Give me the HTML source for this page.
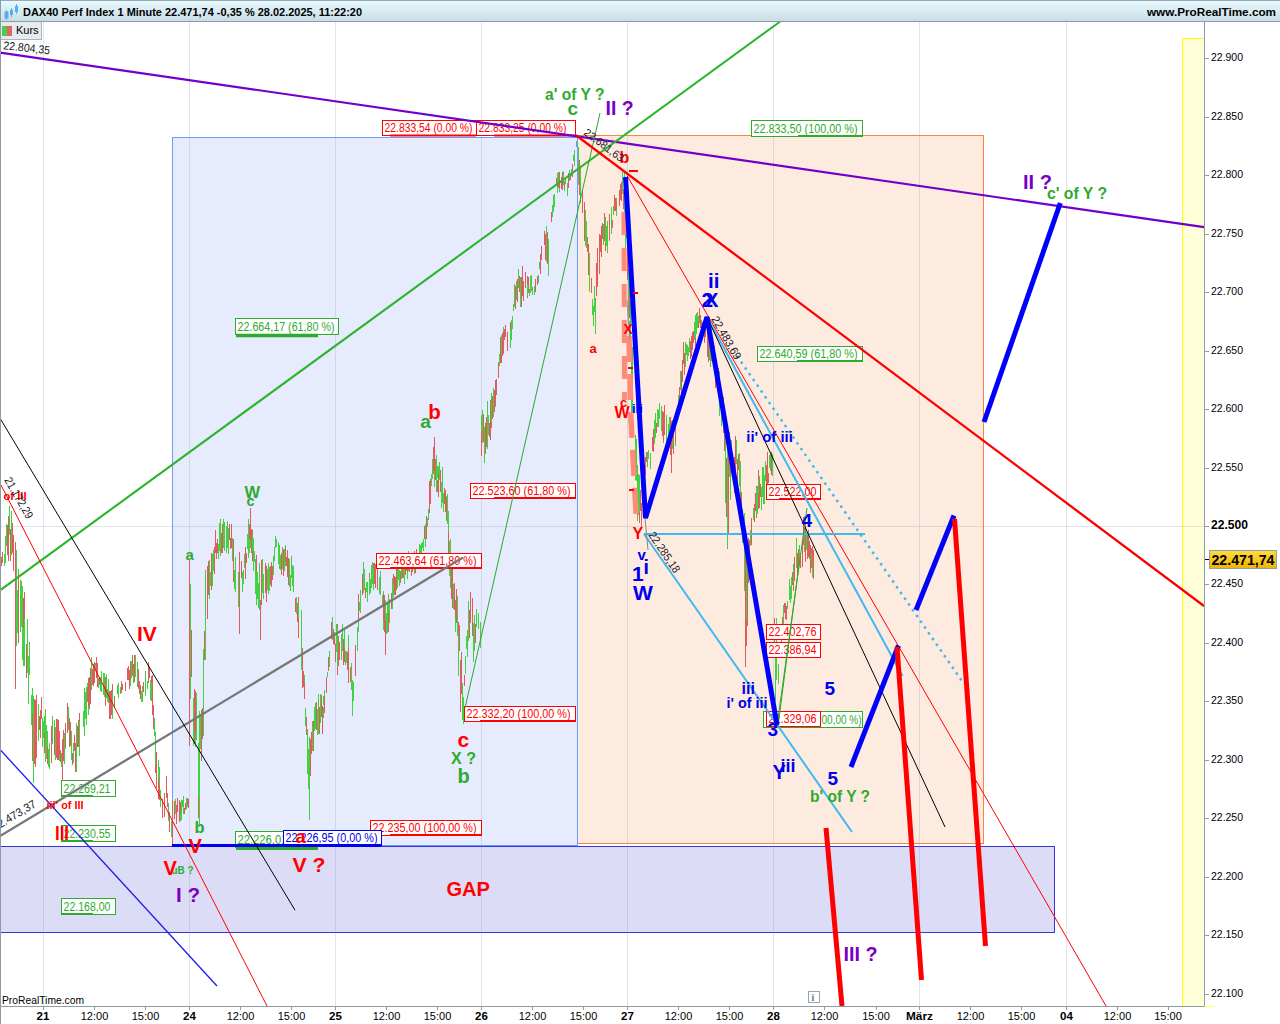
<!DOCTYPE html>
<html><head><meta charset="utf-8"><style>
html,body{margin:0;padding:0;background:#fff;overflow:hidden;width:1280px;height:1024px;}
svg{display:block;font-family:"Liberation Sans", sans-serif;}
</style></head><body>
<svg width="1280" height="1024" viewBox="0 0 1280 1024">
<rect x="0" y="0" width="1280" height="1024" fill="#fff"/>
<rect x="172.5" y="137.5" width="405" height="708" fill="#e6ecfe" stroke="#6c9cff" stroke-width="1"/>
<rect x="577.5" y="135.5" width="406" height="708" fill="#feebe0" stroke="#ff8040" stroke-width="1"/>
<rect x="0.5" y="846.5" width="1054" height="86" fill="#dcdcf7" stroke="#3535dd" stroke-width="1"/>
<line x1="577.5" y1="137" x2="577.5" y2="845" stroke="#6c9cff" stroke-width="1"/>
<rect x="1182.5" y="38.5" width="22" height="968" fill="#ffffd9" stroke="#ffff00" stroke-width="1"/>
<line x1="43.5" y1="22" x2="43.5" y2="1006" stroke="rgba(148,159,182,0.28)" stroke-width="1" />
<line x1="189.5" y1="22" x2="189.5" y2="1006" stroke="rgba(148,159,182,0.28)" stroke-width="1" />
<line x1="335.5" y1="22" x2="335.5" y2="1006" stroke="rgba(148,159,182,0.28)" stroke-width="1" />
<line x1="481.5" y1="22" x2="481.5" y2="1006" stroke="rgba(148,159,182,0.28)" stroke-width="1" />
<line x1="627.5" y1="22" x2="627.5" y2="1006" stroke="rgba(148,159,182,0.28)" stroke-width="1" />
<line x1="773.5" y1="22" x2="773.5" y2="1006" stroke="rgba(148,159,182,0.28)" stroke-width="1" />
<line x1="919.5" y1="22" x2="919.5" y2="1006" stroke="rgba(148,159,182,0.28)" stroke-width="1" />
<line x1="1066.5" y1="22" x2="1066.5" y2="1006" stroke="rgba(148,159,182,0.28)" stroke-width="1" />
<line x1="0" y1="526.5" x2="1204" y2="526.5" stroke="rgba(148,159,182,0.28)" stroke-width="1" />
<g stroke-width="1" shape-rendering="crispEdges"><line x1="1.5" y1="556.8" x2="1.5" y2="566.2" stroke="#de5c5c"/><line x1="2.5" y1="552.0" x2="2.5" y2="563.2" stroke="#de5c5c"/><line x1="4.5" y1="554.4" x2="4.5" y2="566.4" stroke="#40d240"/><line x1="5.5" y1="544.4" x2="5.5" y2="562.9" stroke="#40d240"/><line x1="5.5" y1="536.0" x2="5.5" y2="552.1" stroke="#40d240"/><line x1="6.5" y1="524.0" x2="6.5" y2="545.7" stroke="#40d240"/><line x1="7.5" y1="525.2" x2="7.5" y2="555.4" stroke="#de5c5c"/><line x1="8.5" y1="516.1" x2="8.5" y2="561.0" stroke="#de5c5c"/><line x1="9.5" y1="506.1" x2="9.5" y2="534.6" stroke="#40d240"/><line x1="10.5" y1="528.6" x2="10.5" y2="561.2" stroke="#de5c5c"/><line x1="11.5" y1="511.0" x2="11.5" y2="555.4" stroke="#40d240"/><line x1="12.5" y1="523.0" x2="12.5" y2="553.1" stroke="#de5c5c"/><line x1="13.5" y1="535.0" x2="13.5" y2="570.7" stroke="#de5c5c"/><line x1="15.5" y1="545.0" x2="15.5" y2="613.4" stroke="#40d240"/><line x1="16.5" y1="550.0" x2="16.5" y2="645.9" stroke="#40d240"/><line x1="17.5" y1="589.9" x2="17.5" y2="633.1" stroke="#40d240"/><line x1="18.5" y1="569.3" x2="18.5" y2="639.3" stroke="#40d240"/><line x1="18.5" y1="573.7" x2="18.5" y2="642.7" stroke="#de5c5c"/><line x1="20.5" y1="580.4" x2="20.5" y2="631.7" stroke="#40d240"/><line x1="21.5" y1="581.0" x2="21.5" y2="627.1" stroke="#40d240"/><line x1="22.5" y1="586.2" x2="22.5" y2="660.2" stroke="#40d240"/><line x1="23.5" y1="598.0" x2="23.5" y2="630.6" stroke="#de5c5c"/><line x1="23.5" y1="627.6" x2="23.5" y2="665.9" stroke="#40d240"/><line x1="24.5" y1="592.0" x2="24.5" y2="661.4" stroke="#de5c5c"/><line x1="24.5" y1="619.3" x2="24.5" y2="666.0" stroke="#40d240"/><line x1="26.5" y1="644.0" x2="26.5" y2="678.0" stroke="#de5c5c"/><line x1="27.5" y1="619.0" x2="27.5" y2="673.0" stroke="#40d240"/><line x1="28.5" y1="656.3" x2="28.5" y2="704.0" stroke="#40d240"/><line x1="29.5" y1="641.5" x2="29.5" y2="675.2" stroke="#40d240"/><line x1="31.5" y1="694.7" x2="31.5" y2="724.8" stroke="#40d240"/><line x1="32.5" y1="694.6" x2="32.5" y2="760.9" stroke="#de5c5c"/><line x1="32.5" y1="687.9" x2="32.5" y2="713.8" stroke="#40d240"/><line x1="33.5" y1="745.3" x2="33.5" y2="771.6" stroke="#de5c5c"/><line x1="33.5" y1="695.8" x2="33.5" y2="768.3" stroke="#40d240"/><line x1="34.5" y1="698.5" x2="34.5" y2="764.4" stroke="#de5c5c"/><line x1="35.5" y1="704.3" x2="35.5" y2="766.8" stroke="#40d240"/><line x1="35.5" y1="699.9" x2="35.5" y2="766.8" stroke="#de5c5c"/><line x1="36.5" y1="713.7" x2="36.5" y2="758.0" stroke="#de5c5c"/><line x1="36.5" y1="694.6" x2="36.5" y2="739.4" stroke="#de5c5c"/><line x1="38.5" y1="706.1" x2="38.5" y2="741.0" stroke="#40d240"/><line x1="38.5" y1="704.4" x2="38.5" y2="737.0" stroke="#40d240"/><line x1="39.5" y1="716.4" x2="39.5" y2="730.1" stroke="#de5c5c"/><line x1="40.5" y1="709.9" x2="40.5" y2="738.1" stroke="#de5c5c"/><line x1="41.5" y1="697.4" x2="41.5" y2="718.7" stroke="#de5c5c"/><line x1="42.5" y1="717.8" x2="42.5" y2="747.4" stroke="#40d240"/><line x1="43.5" y1="721.1" x2="43.5" y2="738.1" stroke="#40d240"/><line x1="44.5" y1="727.7" x2="44.5" y2="752.6" stroke="#de5c5c"/><line x1="44.5" y1="716.2" x2="44.5" y2="733.1" stroke="#40d240"/><line x1="45.5" y1="716.6" x2="45.5" y2="762.2" stroke="#40d240"/><line x1="45.5" y1="709.1" x2="45.5" y2="738.8" stroke="#40d240"/><line x1="46.5" y1="725.2" x2="46.5" y2="759.2" stroke="#40d240"/><line x1="47.5" y1="731.0" x2="47.5" y2="750.2" stroke="#40d240"/><line x1="47.5" y1="746.6" x2="47.5" y2="764.4" stroke="#de5c5c"/><line x1="48.5" y1="748.5" x2="48.5" y2="766.6" stroke="#40d240"/><line x1="49.5" y1="743.2" x2="49.5" y2="769.1" stroke="#40d240"/><line x1="51.5" y1="726.0" x2="51.5" y2="762.9" stroke="#de5c5c"/><line x1="52.5" y1="716.3" x2="52.5" y2="744.2" stroke="#40d240"/><line x1="54.5" y1="720.2" x2="54.5" y2="738.8" stroke="#40d240"/><line x1="54.5" y1="729.1" x2="54.5" y2="754.8" stroke="#de5c5c"/><line x1="55.5" y1="727.0" x2="55.5" y2="760.0" stroke="#40d240"/><line x1="56.5" y1="719.2" x2="56.5" y2="741.4" stroke="#de5c5c"/><line x1="56.5" y1="737.7" x2="56.5" y2="757.9" stroke="#de5c5c"/><line x1="57.5" y1="738.1" x2="57.5" y2="759.8" stroke="#de5c5c"/><line x1="57.5" y1="718.7" x2="57.5" y2="747.1" stroke="#de5c5c"/><line x1="58.5" y1="720.0" x2="58.5" y2="749.9" stroke="#de5c5c"/><line x1="58.5" y1="738.6" x2="58.5" y2="760.0" stroke="#de5c5c"/><line x1="59.5" y1="742.7" x2="59.5" y2="761.4" stroke="#40d240"/><line x1="59.5" y1="731.2" x2="59.5" y2="755.0" stroke="#de5c5c"/><line x1="60.5" y1="749.7" x2="60.5" y2="761.5" stroke="#de5c5c"/><line x1="61.5" y1="752.6" x2="61.5" y2="766.9" stroke="#40d240"/><line x1="62.5" y1="750.5" x2="62.5" y2="780.0" stroke="#de5c5c"/><line x1="62.5" y1="738.7" x2="62.5" y2="776.0" stroke="#40d240"/><line x1="63.5" y1="730.0" x2="63.5" y2="760.5" stroke="#de5c5c"/><line x1="64.5" y1="734.7" x2="64.5" y2="753.4" stroke="#40d240"/><line x1="64.5" y1="733.3" x2="64.5" y2="764.4" stroke="#40d240"/><line x1="65.5" y1="723.2" x2="65.5" y2="748.5" stroke="#40d240"/><line x1="65.5" y1="724.4" x2="65.5" y2="747.8" stroke="#de5c5c"/><line x1="67.5" y1="703.3" x2="67.5" y2="733.4" stroke="#de5c5c"/><line x1="68.5" y1="707.0" x2="68.5" y2="729.6" stroke="#40d240"/><line x1="69.5" y1="718.6" x2="69.5" y2="739.6" stroke="#40d240"/><line x1="69.5" y1="717.8" x2="69.5" y2="747.3" stroke="#de5c5c"/><line x1="70.5" y1="722.2" x2="70.5" y2="746.4" stroke="#de5c5c"/><line x1="71.5" y1="730.8" x2="71.5" y2="744.6" stroke="#40d240"/><line x1="71.5" y1="742.7" x2="71.5" y2="759.5" stroke="#40d240"/><line x1="72.5" y1="752.6" x2="72.5" y2="764.5" stroke="#de5c5c"/><line x1="73.5" y1="742.7" x2="73.5" y2="763.3" stroke="#40d240"/><line x1="74.5" y1="735.0" x2="74.5" y2="750.8" stroke="#de5c5c"/><line x1="75.5" y1="743.3" x2="75.5" y2="771.7" stroke="#de5c5c"/><line x1="76.5" y1="735.8" x2="76.5" y2="771.7" stroke="#40d240"/><line x1="76.5" y1="723.0" x2="76.5" y2="762.4" stroke="#40d240"/><line x1="77.5" y1="725.7" x2="77.5" y2="745.7" stroke="#de5c5c"/><line x1="77.5" y1="731.4" x2="77.5" y2="746.9" stroke="#de5c5c"/><line x1="78.5" y1="720.0" x2="78.5" y2="746.6" stroke="#de5c5c"/><line x1="78.5" y1="720.3" x2="78.5" y2="740.1" stroke="#de5c5c"/><line x1="79.5" y1="713.4" x2="79.5" y2="742.6" stroke="#de5c5c"/><line x1="79.5" y1="721.2" x2="79.5" y2="756.4" stroke="#40d240"/><line x1="83.5" y1="711.4" x2="83.5" y2="727.0" stroke="#40d240"/><line x1="84.5" y1="704.7" x2="84.5" y2="735.7" stroke="#40d240"/><line x1="84.5" y1="688.0" x2="84.5" y2="720.7" stroke="#40d240"/><line x1="85.5" y1="691.8" x2="85.5" y2="718.9" stroke="#40d240"/><line x1="86.5" y1="687.0" x2="86.5" y2="724.6" stroke="#40d240"/><line x1="87.5" y1="683.4" x2="87.5" y2="701.5" stroke="#40d240"/><line x1="87.5" y1="689.0" x2="87.5" y2="701.5" stroke="#de5c5c"/><line x1="88.5" y1="682.9" x2="88.5" y2="714.6" stroke="#40d240"/><line x1="88.5" y1="677.9" x2="88.5" y2="706.0" stroke="#de5c5c"/><line x1="89.5" y1="676.7" x2="89.5" y2="709.3" stroke="#de5c5c"/><line x1="90.5" y1="668.4" x2="90.5" y2="704.0" stroke="#de5c5c"/><line x1="91.5" y1="657.4" x2="91.5" y2="689.9" stroke="#40d240"/><line x1="91.5" y1="659.5" x2="91.5" y2="684.6" stroke="#40d240"/><line x1="92.5" y1="668.7" x2="92.5" y2="684.9" stroke="#de5c5c"/><line x1="93.5" y1="664.1" x2="93.5" y2="686.2" stroke="#de5c5c"/><line x1="94.5" y1="661.5" x2="94.5" y2="683.3" stroke="#de5c5c"/><line x1="94.5" y1="674.1" x2="94.5" y2="682.2" stroke="#de5c5c"/><line x1="95.5" y1="662.9" x2="95.5" y2="670.3" stroke="#40d240"/><line x1="96.5" y1="656.6" x2="96.5" y2="678.4" stroke="#de5c5c"/><line x1="97.5" y1="662.6" x2="97.5" y2="686.9" stroke="#de5c5c"/><line x1="97.5" y1="674.3" x2="97.5" y2="682.4" stroke="#de5c5c"/><line x1="98.5" y1="678.2" x2="98.5" y2="688.0" stroke="#40d240"/><line x1="99.5" y1="677.1" x2="99.5" y2="685.2" stroke="#de5c5c"/><line x1="100.5" y1="676.8" x2="100.5" y2="690.9" stroke="#40d240"/><line x1="101.5" y1="671.1" x2="101.5" y2="692.2" stroke="#40d240"/><line x1="103.5" y1="672.6" x2="103.5" y2="695.1" stroke="#40d240"/><line x1="104.5" y1="673.1" x2="104.5" y2="697.3" stroke="#de5c5c"/><line x1="104.5" y1="673.1" x2="104.5" y2="696.8" stroke="#40d240"/><line x1="105.5" y1="676.9" x2="105.5" y2="697.4" stroke="#de5c5c"/><line x1="105.5" y1="686.7" x2="105.5" y2="705.9" stroke="#de5c5c"/><line x1="106.5" y1="674.3" x2="106.5" y2="697.6" stroke="#40d240"/><line x1="107.5" y1="689.1" x2="107.5" y2="701.6" stroke="#40d240"/><line x1="108.5" y1="678.6" x2="108.5" y2="703.4" stroke="#40d240"/><line x1="109.5" y1="690.9" x2="109.5" y2="719.0" stroke="#de5c5c"/><line x1="110.5" y1="691.3" x2="110.5" y2="719.0" stroke="#de5c5c"/><line x1="111.5" y1="690.2" x2="111.5" y2="714.5" stroke="#de5c5c"/><line x1="112.5" y1="684.2" x2="112.5" y2="700.1" stroke="#de5c5c"/><line x1="112.5" y1="691.7" x2="112.5" y2="719.0" stroke="#40d240"/><line x1="114.5" y1="696.2" x2="114.5" y2="707.9" stroke="#de5c5c"/><line x1="117.5" y1="684.9" x2="117.5" y2="693.7" stroke="#40d240"/><line x1="118.5" y1="683.3" x2="118.5" y2="697.6" stroke="#40d240"/><line x1="120.5" y1="687.2" x2="120.5" y2="694.2" stroke="#40d240"/><line x1="121.5" y1="680.6" x2="121.5" y2="692.8" stroke="#de5c5c"/><line x1="121.5" y1="680.8" x2="121.5" y2="691.7" stroke="#de5c5c"/><line x1="122.5" y1="683.9" x2="122.5" y2="689.5" stroke="#de5c5c"/><line x1="125.5" y1="681.5" x2="125.5" y2="691.3" stroke="#de5c5c"/><line x1="127.5" y1="668.2" x2="127.5" y2="680.1" stroke="#de5c5c"/><line x1="128.5" y1="665.8" x2="128.5" y2="679.6" stroke="#de5c5c"/><line x1="129.5" y1="670.4" x2="129.5" y2="689.4" stroke="#de5c5c"/><line x1="130.5" y1="660.6" x2="130.5" y2="686.0" stroke="#40d240"/><line x1="130.5" y1="662.8" x2="130.5" y2="679.5" stroke="#de5c5c"/><line x1="131.5" y1="661.3" x2="131.5" y2="678.4" stroke="#40d240"/><line x1="132.5" y1="654.8" x2="132.5" y2="675.5" stroke="#de5c5c"/><line x1="133.5" y1="664.3" x2="133.5" y2="675.9" stroke="#de5c5c"/><line x1="133.5" y1="668.8" x2="133.5" y2="682.6" stroke="#40d240"/><line x1="134.5" y1="655.0" x2="134.5" y2="681.8" stroke="#de5c5c"/><line x1="135.5" y1="655.2" x2="135.5" y2="677.3" stroke="#40d240"/><line x1="137.5" y1="662.3" x2="137.5" y2="677.8" stroke="#40d240"/><line x1="137.5" y1="670.5" x2="137.5" y2="686.6" stroke="#40d240"/><line x1="138.5" y1="672.5" x2="138.5" y2="688.5" stroke="#40d240"/><line x1="138.5" y1="668.9" x2="138.5" y2="687.8" stroke="#de5c5c"/><line x1="139.5" y1="680.7" x2="139.5" y2="694.2" stroke="#de5c5c"/><line x1="140.5" y1="685.0" x2="140.5" y2="698.2" stroke="#de5c5c"/><line x1="140.5" y1="686.3" x2="140.5" y2="699.3" stroke="#de5c5c"/><line x1="141.5" y1="691.2" x2="141.5" y2="702.0" stroke="#40d240"/><line x1="142.5" y1="685.5" x2="142.5" y2="701.8" stroke="#40d240"/><line x1="143.5" y1="681.6" x2="143.5" y2="691.9" stroke="#de5c5c"/><line x1="145.5" y1="670.7" x2="145.5" y2="695.6" stroke="#40d240"/><line x1="147.5" y1="680.9" x2="147.5" y2="689.3" stroke="#40d240"/><line x1="148.5" y1="662.4" x2="148.5" y2="683.3" stroke="#de5c5c"/><line x1="149.5" y1="667.6" x2="149.5" y2="677.7" stroke="#de5c5c"/><line x1="150.5" y1="680.2" x2="150.5" y2="699.5" stroke="#40d240"/><line x1="151.5" y1="675.8" x2="151.5" y2="700.5" stroke="#de5c5c"/><line x1="151.5" y1="683.3" x2="151.5" y2="699.3" stroke="#40d240"/><line x1="152.5" y1="682.6" x2="152.5" y2="710.5" stroke="#de5c5c"/><line x1="152.5" y1="675.0" x2="152.5" y2="714.7" stroke="#de5c5c"/><line x1="153.5" y1="705.1" x2="153.5" y2="729.4" stroke="#de5c5c"/><line x1="154.5" y1="717.7" x2="154.5" y2="735.9" stroke="#40d240"/><line x1="155.5" y1="737.6" x2="155.5" y2="773.4" stroke="#de5c5c"/><line x1="155.5" y1="731.9" x2="155.5" y2="764.2" stroke="#40d240"/><line x1="156.5" y1="752.1" x2="156.5" y2="788.3" stroke="#de5c5c"/><line x1="158.5" y1="759.9" x2="158.5" y2="781.3" stroke="#40d240"/><line x1="158.5" y1="776.5" x2="158.5" y2="799.0" stroke="#de5c5c"/><line x1="159.5" y1="767.2" x2="159.5" y2="799.8" stroke="#40d240"/><line x1="159.5" y1="784.7" x2="159.5" y2="799.6" stroke="#de5c5c"/><line x1="160.5" y1="789.8" x2="160.5" y2="807.4" stroke="#40d240"/><line x1="162.5" y1="799.1" x2="162.5" y2="818.4" stroke="#de5c5c"/><line x1="164.5" y1="793.4" x2="164.5" y2="817.0" stroke="#de5c5c"/><line x1="166.5" y1="778.5" x2="166.5" y2="797.6" stroke="#40d240"/><line x1="166.5" y1="776.0" x2="166.5" y2="798.0" stroke="#de5c5c"/><line x1="167.5" y1="792.7" x2="167.5" y2="806.8" stroke="#de5c5c"/><line x1="168.5" y1="803.1" x2="168.5" y2="820.8" stroke="#40d240"/><line x1="169.5" y1="811.6" x2="169.5" y2="832.0" stroke="#de5c5c"/><line x1="169.5" y1="821.4" x2="169.5" y2="832.4" stroke="#de5c5c"/><line x1="171.5" y1="820.8" x2="171.5" y2="836.9" stroke="#40d240"/><line x1="172.5" y1="816.3" x2="172.5" y2="823.8" stroke="#40d240"/><line x1="172.5" y1="810.2" x2="172.5" y2="818.3" stroke="#40d240"/><line x1="174.5" y1="801.2" x2="174.5" y2="819.3" stroke="#de5c5c"/><line x1="175.5" y1="799.4" x2="175.5" y2="813.9" stroke="#40d240"/><line x1="176.5" y1="804.9" x2="176.5" y2="823.8" stroke="#de5c5c"/><line x1="177.5" y1="797.5" x2="177.5" y2="811.7" stroke="#de5c5c"/><line x1="179.5" y1="800.0" x2="179.5" y2="822.2" stroke="#de5c5c"/><line x1="180.5" y1="804.8" x2="180.5" y2="821.2" stroke="#40d240"/><line x1="180.5" y1="802.4" x2="180.5" y2="811.6" stroke="#de5c5c"/><line x1="181.5" y1="800.3" x2="181.5" y2="820.1" stroke="#40d240"/><line x1="182.5" y1="800.2" x2="182.5" y2="807.2" stroke="#40d240"/><line x1="183.5" y1="796.1" x2="183.5" y2="813.8" stroke="#40d240"/><line x1="184.5" y1="807.9" x2="184.5" y2="814.2" stroke="#de5c5c"/><line x1="185.5" y1="802.7" x2="185.5" y2="809.6" stroke="#de5c5c"/><line x1="186.5" y1="803.5" x2="186.5" y2="808.1" stroke="#de5c5c"/><line x1="186.5" y1="797.5" x2="186.5" y2="809.2" stroke="#40d240"/><line x1="187.5" y1="798.3" x2="187.5" y2="806.8" stroke="#40d240"/><line x1="187.5" y1="798.8" x2="187.5" y2="804.0" stroke="#de5c5c"/><line x1="188.5" y1="798.7" x2="188.5" y2="808.3" stroke="#de5c5c"/><line x1="189.5" y1="659.8" x2="189.5" y2="707.7" stroke="#40d240"/><line x1="190.5" y1="584.4" x2="190.5" y2="698.6" stroke="#40d240"/><line x1="191.5" y1="630.4" x2="191.5" y2="677.0" stroke="#de5c5c"/><line x1="193.5" y1="697.9" x2="193.5" y2="745.8" stroke="#40d240"/><line x1="194.5" y1="688.7" x2="194.5" y2="743.7" stroke="#de5c5c"/><line x1="195.5" y1="699.3" x2="195.5" y2="747.2" stroke="#40d240"/><line x1="195.5" y1="690.9" x2="195.5" y2="731.4" stroke="#de5c5c"/><line x1="196.5" y1="692.5" x2="196.5" y2="740.3" stroke="#40d240"/><line x1="198.5" y1="763.2" x2="198.5" y2="817.5" stroke="#de5c5c"/><line x1="198.5" y1="743.4" x2="198.5" y2="797.4" stroke="#40d240"/><line x1="199.5" y1="741.1" x2="199.5" y2="781.8" stroke="#40d240"/><line x1="200.5" y1="715.6" x2="200.5" y2="749.2" stroke="#40d240"/><line x1="201.5" y1="710.1" x2="201.5" y2="761.0" stroke="#de5c5c"/><line x1="202.5" y1="707.7" x2="202.5" y2="739.2" stroke="#de5c5c"/><line x1="203.5" y1="649.0" x2="203.5" y2="709.6" stroke="#40d240"/><line x1="203.5" y1="657.8" x2="203.5" y2="735.9" stroke="#40d240"/><line x1="204.5" y1="631.2" x2="204.5" y2="659.5" stroke="#de5c5c"/><line x1="205.5" y1="573.1" x2="205.5" y2="639.3" stroke="#40d240"/><line x1="207.5" y1="566.4" x2="207.5" y2="619.2" stroke="#de5c5c"/><line x1="208.5" y1="561.0" x2="208.5" y2="594.5" stroke="#de5c5c"/><line x1="209.5" y1="559.5" x2="209.5" y2="584.3" stroke="#40d240"/><line x1="209.5" y1="564.8" x2="209.5" y2="598.8" stroke="#40d240"/><line x1="210.5" y1="572.3" x2="210.5" y2="586.2" stroke="#40d240"/><line x1="211.5" y1="552.5" x2="211.5" y2="590.2" stroke="#de5c5c"/><line x1="212.5" y1="554.3" x2="212.5" y2="585.6" stroke="#40d240"/><line x1="213.5" y1="549.7" x2="213.5" y2="571.0" stroke="#40d240"/><line x1="214.5" y1="546.9" x2="214.5" y2="573.8" stroke="#de5c5c"/><line x1="215.5" y1="529.6" x2="215.5" y2="553.3" stroke="#de5c5c"/><line x1="216.5" y1="543.2" x2="216.5" y2="559.1" stroke="#de5c5c"/><line x1="217.5" y1="538.9" x2="217.5" y2="552.8" stroke="#de5c5c"/><line x1="218.5" y1="544.3" x2="218.5" y2="558.9" stroke="#40d240"/><line x1="219.5" y1="523.4" x2="219.5" y2="550.5" stroke="#40d240"/><line x1="220.5" y1="519.0" x2="220.5" y2="541.9" stroke="#de5c5c"/><line x1="220.5" y1="520.4" x2="220.5" y2="556.4" stroke="#40d240"/><line x1="221.5" y1="533.4" x2="221.5" y2="552.5" stroke="#de5c5c"/><line x1="222.5" y1="523.8" x2="222.5" y2="553.4" stroke="#de5c5c"/><line x1="223.5" y1="519.2" x2="223.5" y2="545.6" stroke="#40d240"/><line x1="223.5" y1="533.2" x2="223.5" y2="547.8" stroke="#40d240"/><line x1="224.5" y1="536.8" x2="224.5" y2="551.1" stroke="#40d240"/><line x1="224.5" y1="521.7" x2="224.5" y2="543.9" stroke="#40d240"/><line x1="226.5" y1="525.5" x2="226.5" y2="553.3" stroke="#40d240"/><line x1="226.5" y1="527.0" x2="226.5" y2="535.9" stroke="#40d240"/><line x1="227.5" y1="521.3" x2="227.5" y2="547.6" stroke="#40d240"/><line x1="228.5" y1="527.5" x2="228.5" y2="553.8" stroke="#40d240"/><line x1="229.5" y1="524.1" x2="229.5" y2="539.9" stroke="#de5c5c"/><line x1="230.5" y1="537.9" x2="230.5" y2="548.6" stroke="#de5c5c"/><line x1="231.5" y1="524.0" x2="231.5" y2="548.2" stroke="#de5c5c"/><line x1="232.5" y1="538.2" x2="232.5" y2="560.7" stroke="#40d240"/><line x1="233.5" y1="539.2" x2="233.5" y2="581.9" stroke="#de5c5c"/><line x1="234.5" y1="569.9" x2="234.5" y2="588.8" stroke="#40d240"/><line x1="235.5" y1="556.9" x2="235.5" y2="592.3" stroke="#40d240"/><line x1="238.5" y1="579.4" x2="238.5" y2="607.0" stroke="#40d240"/><line x1="238.5" y1="572.2" x2="238.5" y2="600.3" stroke="#40d240"/><line x1="239.5" y1="552.2" x2="239.5" y2="602.7" stroke="#de5c5c"/><line x1="241.5" y1="560.7" x2="241.5" y2="577.8" stroke="#de5c5c"/><line x1="242.5" y1="572.3" x2="242.5" y2="592.0" stroke="#40d240"/><line x1="243.5" y1="569.6" x2="243.5" y2="583.5" stroke="#40d240"/><line x1="244.5" y1="554.2" x2="244.5" y2="567.7" stroke="#40d240"/><line x1="245.5" y1="547.2" x2="245.5" y2="578.7" stroke="#de5c5c"/><line x1="246.5" y1="553.0" x2="246.5" y2="563.4" stroke="#de5c5c"/><line x1="247.5" y1="533.7" x2="247.5" y2="548.6" stroke="#40d240"/><line x1="248.5" y1="538.9" x2="248.5" y2="558.3" stroke="#40d240"/><line x1="248.5" y1="519.3" x2="248.5" y2="554.1" stroke="#40d240"/><line x1="249.5" y1="539.2" x2="249.5" y2="552.6" stroke="#40d240"/><line x1="249.5" y1="523.5" x2="249.5" y2="539.0" stroke="#de5c5c"/><line x1="250.5" y1="533.7" x2="250.5" y2="547.6" stroke="#40d240"/><line x1="250.5" y1="526.4" x2="250.5" y2="539.8" stroke="#40d240"/><line x1="251.5" y1="528.8" x2="251.5" y2="553.1" stroke="#de5c5c"/><line x1="252.5" y1="529.7" x2="252.5" y2="561.3" stroke="#de5c5c"/><line x1="252.5" y1="534.4" x2="252.5" y2="551.2" stroke="#40d240"/><line x1="253.5" y1="537.5" x2="253.5" y2="571.1" stroke="#40d240"/><line x1="254.5" y1="551.0" x2="254.5" y2="561.8" stroke="#40d240"/><line x1="255.5" y1="559.0" x2="255.5" y2="593.8" stroke="#40d240"/><line x1="256.5" y1="554.8" x2="256.5" y2="588.6" stroke="#de5c5c"/><line x1="256.5" y1="571.6" x2="256.5" y2="604.5" stroke="#40d240"/><line x1="257.5" y1="572.1" x2="257.5" y2="599.0" stroke="#40d240"/><line x1="258.5" y1="583.4" x2="258.5" y2="608.4" stroke="#40d240"/><line x1="259.5" y1="562.5" x2="259.5" y2="609.6" stroke="#40d240"/><line x1="261.5" y1="559.5" x2="261.5" y2="605.4" stroke="#de5c5c"/><line x1="262.5" y1="559.1" x2="262.5" y2="591.4" stroke="#40d240"/><line x1="262.5" y1="560.2" x2="262.5" y2="593.0" stroke="#40d240"/><line x1="263.5" y1="573.9" x2="263.5" y2="599.3" stroke="#40d240"/><line x1="265.5" y1="574.9" x2="265.5" y2="593.3" stroke="#de5c5c"/><line x1="265.5" y1="562.8" x2="265.5" y2="587.1" stroke="#de5c5c"/><line x1="266.5" y1="565.9" x2="266.5" y2="601.6" stroke="#de5c5c"/><line x1="267.5" y1="569.4" x2="267.5" y2="589.7" stroke="#40d240"/><line x1="268.5" y1="563.2" x2="268.5" y2="594.0" stroke="#40d240"/><line x1="268.5" y1="563.0" x2="268.5" y2="584.3" stroke="#40d240"/><line x1="269.5" y1="567.4" x2="269.5" y2="580.3" stroke="#40d240"/><line x1="269.5" y1="577.0" x2="269.5" y2="590.8" stroke="#40d240"/><line x1="270.5" y1="566.3" x2="270.5" y2="584.5" stroke="#de5c5c"/><line x1="271.5" y1="561.9" x2="271.5" y2="586.6" stroke="#de5c5c"/><line x1="272.5" y1="566.0" x2="272.5" y2="579.8" stroke="#de5c5c"/><line x1="273.5" y1="555.5" x2="273.5" y2="575.4" stroke="#40d240"/><line x1="274.5" y1="546.8" x2="274.5" y2="560.9" stroke="#40d240"/><line x1="275.5" y1="536.2" x2="275.5" y2="547.7" stroke="#40d240"/><line x1="276.5" y1="538.5" x2="276.5" y2="546.9" stroke="#40d240"/><line x1="278.5" y1="541.6" x2="278.5" y2="564.4" stroke="#40d240"/><line x1="279.5" y1="558.3" x2="279.5" y2="567.2" stroke="#40d240"/><line x1="279.5" y1="544.6" x2="279.5" y2="568.5" stroke="#40d240"/><line x1="280.5" y1="555.4" x2="280.5" y2="570.2" stroke="#40d240"/><line x1="281.5" y1="555.5" x2="281.5" y2="575.3" stroke="#40d240"/><line x1="281.5" y1="552.8" x2="281.5" y2="573.7" stroke="#de5c5c"/><line x1="282.5" y1="547.1" x2="282.5" y2="569.0" stroke="#40d240"/><line x1="283.5" y1="548.5" x2="283.5" y2="576.1" stroke="#de5c5c"/><line x1="284.5" y1="549.4" x2="284.5" y2="570.5" stroke="#40d240"/><line x1="285.5" y1="545.0" x2="285.5" y2="565.5" stroke="#40d240"/><line x1="285.5" y1="547.0" x2="285.5" y2="560.9" stroke="#de5c5c"/><line x1="286.5" y1="556.9" x2="286.5" y2="565.7" stroke="#de5c5c"/><line x1="287.5" y1="550.0" x2="287.5" y2="576.5" stroke="#de5c5c"/><line x1="288.5" y1="558.3" x2="288.5" y2="584.8" stroke="#de5c5c"/><line x1="289.5" y1="558.5" x2="289.5" y2="586.7" stroke="#40d240"/><line x1="290.5" y1="575.3" x2="290.5" y2="590.9" stroke="#40d240"/><line x1="291.5" y1="556.0" x2="291.5" y2="578.2" stroke="#40d240"/><line x1="292.5" y1="564.6" x2="292.5" y2="586.1" stroke="#40d240"/><line x1="293.5" y1="566.0" x2="293.5" y2="592.3" stroke="#40d240"/><line x1="295.5" y1="597.9" x2="295.5" y2="611.5" stroke="#de5c5c"/><line x1="296.5" y1="596.5" x2="296.5" y2="614.3" stroke="#40d240"/><line x1="297.5" y1="603.0" x2="297.5" y2="621.6" stroke="#de5c5c"/><line x1="298.5" y1="597.3" x2="298.5" y2="638.0" stroke="#de5c5c"/><line x1="298.5" y1="603.3" x2="298.5" y2="617.0" stroke="#40d240"/><line x1="301.5" y1="618.9" x2="301.5" y2="663.3" stroke="#40d240"/><line x1="301.5" y1="610.0" x2="301.5" y2="670.1" stroke="#40d240"/><line x1="302.5" y1="649.4" x2="302.5" y2="688.0" stroke="#40d240"/><line x1="302.5" y1="648.1" x2="302.5" y2="688.0" stroke="#de5c5c"/><line x1="303.5" y1="671.3" x2="303.5" y2="687.1" stroke="#de5c5c"/><line x1="304.5" y1="674.7" x2="304.5" y2="694.4" stroke="#40d240"/><line x1="304.5" y1="682.2" x2="304.5" y2="698.9" stroke="#de5c5c"/><line x1="305.5" y1="707.8" x2="305.5" y2="725.5" stroke="#40d240"/><line x1="306.5" y1="716.7" x2="306.5" y2="735.4" stroke="#de5c5c"/><line x1="307.5" y1="733.2" x2="307.5" y2="773.8" stroke="#40d240"/><line x1="307.5" y1="729.2" x2="307.5" y2="749.3" stroke="#40d240"/><line x1="308.5" y1="749.3" x2="308.5" y2="788.9" stroke="#40d240"/><line x1="309.5" y1="737.0" x2="309.5" y2="809.9" stroke="#40d240"/><line x1="309.5" y1="784.0" x2="309.5" y2="814.8" stroke="#de5c5c"/><line x1="310.5" y1="739.2" x2="310.5" y2="775.5" stroke="#de5c5c"/><line x1="310.5" y1="740.7" x2="310.5" y2="770.8" stroke="#de5c5c"/><line x1="311.5" y1="731.8" x2="311.5" y2="753.5" stroke="#de5c5c"/><line x1="312.5" y1="720.5" x2="312.5" y2="750.8" stroke="#40d240"/><line x1="313.5" y1="720.7" x2="313.5" y2="750.7" stroke="#de5c5c"/><line x1="313.5" y1="721.1" x2="313.5" y2="735.9" stroke="#de5c5c"/><line x1="314.5" y1="707.2" x2="314.5" y2="731.2" stroke="#40d240"/><line x1="315.5" y1="703.1" x2="315.5" y2="729.3" stroke="#40d240"/><line x1="316.5" y1="702.1" x2="316.5" y2="729.8" stroke="#de5c5c"/><line x1="317.5" y1="709.2" x2="317.5" y2="735.2" stroke="#40d240"/><line x1="318.5" y1="693.6" x2="318.5" y2="727.0" stroke="#40d240"/><line x1="318.5" y1="711.9" x2="318.5" y2="734.0" stroke="#40d240"/><line x1="319.5" y1="707.0" x2="319.5" y2="734.0" stroke="#de5c5c"/><line x1="320.5" y1="693.5" x2="320.5" y2="720.2" stroke="#de5c5c"/><line x1="320.5" y1="693.6" x2="320.5" y2="723.4" stroke="#40d240"/><line x1="321.5" y1="700.1" x2="321.5" y2="716.2" stroke="#de5c5c"/><line x1="321.5" y1="694.8" x2="321.5" y2="717.0" stroke="#de5c5c"/><line x1="322.5" y1="706.4" x2="322.5" y2="734.0" stroke="#de5c5c"/><line x1="323.5" y1="707.0" x2="323.5" y2="717.7" stroke="#40d240"/><line x1="323.5" y1="696.4" x2="323.5" y2="704.8" stroke="#40d240"/><line x1="324.5" y1="689.7" x2="324.5" y2="699.0" stroke="#40d240"/><line x1="324.5" y1="696.3" x2="324.5" y2="712.8" stroke="#de5c5c"/><line x1="326.5" y1="676.6" x2="326.5" y2="693.3" stroke="#de5c5c"/><line x1="327.5" y1="671.5" x2="327.5" y2="676.9" stroke="#40d240"/><line x1="328.5" y1="657.2" x2="328.5" y2="670.7" stroke="#de5c5c"/><line x1="329.5" y1="650.6" x2="329.5" y2="666.6" stroke="#40d240"/><line x1="331.5" y1="621.5" x2="331.5" y2="638.5" stroke="#de5c5c"/><line x1="332.5" y1="624.6" x2="332.5" y2="640.4" stroke="#40d240"/><line x1="332.5" y1="616.8" x2="332.5" y2="639.9" stroke="#40d240"/><line x1="333.5" y1="629.0" x2="333.5" y2="643.5" stroke="#de5c5c"/><line x1="334.5" y1="631.6" x2="334.5" y2="641.0" stroke="#40d240"/><line x1="334.5" y1="638.3" x2="334.5" y2="644.8" stroke="#de5c5c"/><line x1="335.5" y1="644.4" x2="335.5" y2="661.6" stroke="#de5c5c"/><line x1="336.5" y1="624.3" x2="336.5" y2="652.3" stroke="#40d240"/><line x1="337.5" y1="623.6" x2="337.5" y2="674.8" stroke="#de5c5c"/><line x1="337.5" y1="628.4" x2="337.5" y2="666.1" stroke="#40d240"/><line x1="338.5" y1="635.7" x2="338.5" y2="666.0" stroke="#de5c5c"/><line x1="339.5" y1="642.4" x2="339.5" y2="659.9" stroke="#de5c5c"/><line x1="341.5" y1="633.6" x2="341.5" y2="659.7" stroke="#40d240"/><line x1="342.5" y1="624.0" x2="342.5" y2="646.2" stroke="#40d240"/><line x1="342.5" y1="630.5" x2="342.5" y2="651.1" stroke="#40d240"/><line x1="343.5" y1="638.5" x2="343.5" y2="664.5" stroke="#de5c5c"/><line x1="344.5" y1="637.2" x2="344.5" y2="662.4" stroke="#de5c5c"/><line x1="344.5" y1="628.5" x2="344.5" y2="648.2" stroke="#40d240"/><line x1="345.5" y1="651.2" x2="345.5" y2="664.7" stroke="#40d240"/><line x1="346.5" y1="651.0" x2="346.5" y2="662.9" stroke="#40d240"/><line x1="347.5" y1="651.8" x2="347.5" y2="669.6" stroke="#de5c5c"/><line x1="348.5" y1="635.4" x2="348.5" y2="661.5" stroke="#40d240"/><line x1="348.5" y1="647.2" x2="348.5" y2="682.8" stroke="#de5c5c"/><line x1="350.5" y1="666.6" x2="350.5" y2="681.8" stroke="#de5c5c"/><line x1="351.5" y1="662.6" x2="351.5" y2="689.7" stroke="#40d240"/><line x1="353.5" y1="681.9" x2="353.5" y2="700.6" stroke="#40d240"/><line x1="355.5" y1="645.4" x2="355.5" y2="676.2" stroke="#de5c5c"/><line x1="357.5" y1="626.8" x2="357.5" y2="650.7" stroke="#40d240"/><line x1="358.5" y1="612.8" x2="358.5" y2="631.5" stroke="#40d240"/><line x1="358.5" y1="594.0" x2="358.5" y2="620.2" stroke="#de5c5c"/><line x1="359.5" y1="602.4" x2="359.5" y2="611.1" stroke="#40d240"/><line x1="360.5" y1="590.1" x2="360.5" y2="613.1" stroke="#40d240"/><line x1="360.5" y1="593.7" x2="360.5" y2="602.3" stroke="#40d240"/><line x1="362.5" y1="574.3" x2="362.5" y2="595.3" stroke="#de5c5c"/><line x1="363.5" y1="562.0" x2="363.5" y2="593.0" stroke="#40d240"/><line x1="364.5" y1="569.0" x2="364.5" y2="586.0" stroke="#40d240"/><line x1="364.5" y1="573.3" x2="364.5" y2="590.1" stroke="#40d240"/><line x1="365.5" y1="588.0" x2="365.5" y2="597.5" stroke="#de5c5c"/><line x1="366.5" y1="582.0" x2="366.5" y2="591.5" stroke="#40d240"/><line x1="367.5" y1="581.5" x2="367.5" y2="602.2" stroke="#40d240"/><line x1="369.5" y1="572.6" x2="369.5" y2="589.6" stroke="#de5c5c"/><line x1="369.5" y1="576.7" x2="369.5" y2="595.4" stroke="#40d240"/><line x1="370.5" y1="579.0" x2="370.5" y2="592.5" stroke="#40d240"/><line x1="371.5" y1="568.2" x2="371.5" y2="577.6" stroke="#40d240"/><line x1="371.5" y1="564.9" x2="371.5" y2="588.2" stroke="#40d240"/><line x1="372.5" y1="562.1" x2="372.5" y2="583.6" stroke="#40d240"/><line x1="373.5" y1="563.3" x2="373.5" y2="578.3" stroke="#de5c5c"/><line x1="373.5" y1="568.1" x2="373.5" y2="590.0" stroke="#40d240"/><line x1="374.5" y1="563.1" x2="374.5" y2="584.1" stroke="#de5c5c"/><line x1="375.5" y1="563.9" x2="375.5" y2="587.8" stroke="#de5c5c"/><line x1="377.5" y1="558.3" x2="377.5" y2="590.4" stroke="#de5c5c"/><line x1="379.5" y1="577.2" x2="379.5" y2="594.3" stroke="#40d240"/><line x1="380.5" y1="570.6" x2="380.5" y2="594.8" stroke="#40d240"/><line x1="382.5" y1="594.5" x2="382.5" y2="607.1" stroke="#40d240"/><line x1="383.5" y1="590.5" x2="383.5" y2="629.6" stroke="#40d240"/><line x1="383.5" y1="592.6" x2="383.5" y2="620.1" stroke="#de5c5c"/><line x1="384.5" y1="609.3" x2="384.5" y2="623.6" stroke="#40d240"/><line x1="384.5" y1="595.4" x2="384.5" y2="631.9" stroke="#de5c5c"/><line x1="385.5" y1="599.6" x2="385.5" y2="645.0" stroke="#40d240"/><line x1="386.5" y1="613.2" x2="386.5" y2="633.9" stroke="#40d240"/><line x1="387.5" y1="604.1" x2="387.5" y2="632.8" stroke="#40d240"/><line x1="388.5" y1="594.0" x2="388.5" y2="621.2" stroke="#40d240"/><line x1="388.5" y1="612.4" x2="388.5" y2="632.4" stroke="#de5c5c"/><line x1="389.5" y1="599.0" x2="389.5" y2="622.5" stroke="#40d240"/><line x1="391.5" y1="592.6" x2="391.5" y2="609.2" stroke="#de5c5c"/><line x1="392.5" y1="591.9" x2="392.5" y2="608.6" stroke="#40d240"/><line x1="392.5" y1="577.7" x2="392.5" y2="600.1" stroke="#40d240"/><line x1="393.5" y1="573.8" x2="393.5" y2="592.5" stroke="#de5c5c"/><line x1="393.5" y1="583.5" x2="393.5" y2="597.3" stroke="#40d240"/><line x1="394.5" y1="586.1" x2="394.5" y2="595.2" stroke="#de5c5c"/><line x1="394.5" y1="575.9" x2="394.5" y2="586.8" stroke="#de5c5c"/><line x1="395.5" y1="577.3" x2="395.5" y2="594.9" stroke="#de5c5c"/><line x1="396.5" y1="567.8" x2="396.5" y2="590.2" stroke="#de5c5c"/><line x1="397.5" y1="577.8" x2="397.5" y2="587.7" stroke="#40d240"/><line x1="397.5" y1="567.0" x2="397.5" y2="580.6" stroke="#40d240"/><line x1="398.5" y1="568.3" x2="398.5" y2="580.4" stroke="#40d240"/><line x1="399.5" y1="569.8" x2="399.5" y2="585.5" stroke="#40d240"/><line x1="400.5" y1="572.4" x2="400.5" y2="582.7" stroke="#de5c5c"/><line x1="400.5" y1="571.1" x2="400.5" y2="582.6" stroke="#de5c5c"/><line x1="401.5" y1="564.7" x2="401.5" y2="578.6" stroke="#40d240"/><line x1="402.5" y1="568.1" x2="402.5" y2="578.2" stroke="#de5c5c"/><line x1="403.5" y1="567.7" x2="403.5" y2="578.4" stroke="#40d240"/><line x1="404.5" y1="568.5" x2="404.5" y2="584.0" stroke="#40d240"/><line x1="405.5" y1="566.1" x2="405.5" y2="574.6" stroke="#de5c5c"/><line x1="406.5" y1="553.0" x2="406.5" y2="570.8" stroke="#40d240"/><line x1="406.5" y1="553.0" x2="406.5" y2="569.5" stroke="#de5c5c"/><line x1="407.5" y1="562.7" x2="407.5" y2="579.2" stroke="#40d240"/><line x1="407.5" y1="561.8" x2="407.5" y2="572.2" stroke="#de5c5c"/><line x1="408.5" y1="550.6" x2="408.5" y2="570.5" stroke="#40d240"/><line x1="409.5" y1="555.0" x2="409.5" y2="572.2" stroke="#de5c5c"/><line x1="410.5" y1="552.8" x2="410.5" y2="565.9" stroke="#de5c5c"/><line x1="411.5" y1="556.0" x2="411.5" y2="576.0" stroke="#de5c5c"/><line x1="411.5" y1="564.0" x2="411.5" y2="571.4" stroke="#40d240"/><line x1="412.5" y1="554.3" x2="412.5" y2="572.4" stroke="#de5c5c"/><line x1="414.5" y1="551.1" x2="414.5" y2="560.1" stroke="#de5c5c"/><line x1="414.5" y1="566.1" x2="414.5" y2="573.6" stroke="#40d240"/><line x1="415.5" y1="554.9" x2="415.5" y2="572.5" stroke="#de5c5c"/><line x1="416.5" y1="549.0" x2="416.5" y2="568.1" stroke="#de5c5c"/><line x1="417.5" y1="552.7" x2="417.5" y2="564.9" stroke="#40d240"/><line x1="418.5" y1="552.5" x2="418.5" y2="566.3" stroke="#40d240"/><line x1="419.5" y1="544.0" x2="419.5" y2="561.1" stroke="#40d240"/><line x1="420.5" y1="545.4" x2="420.5" y2="559.5" stroke="#40d240"/><line x1="421.5" y1="542.9" x2="421.5" y2="552.5" stroke="#40d240"/><line x1="422.5" y1="541.8" x2="422.5" y2="548.1" stroke="#40d240"/><line x1="423.5" y1="538.9" x2="423.5" y2="550.5" stroke="#40d240"/><line x1="424.5" y1="526.1" x2="424.5" y2="538.8" stroke="#de5c5c"/><line x1="425.5" y1="524.3" x2="425.5" y2="546.8" stroke="#40d240"/><line x1="426.5" y1="522.7" x2="426.5" y2="539.2" stroke="#de5c5c"/><line x1="426.5" y1="515.5" x2="426.5" y2="530.8" stroke="#de5c5c"/><line x1="427.5" y1="517.8" x2="427.5" y2="526.6" stroke="#40d240"/><line x1="428.5" y1="508.9" x2="428.5" y2="520.2" stroke="#40d240"/><line x1="429.5" y1="497.8" x2="429.5" y2="512.9" stroke="#de5c5c"/><line x1="429.5" y1="480.8" x2="429.5" y2="502.9" stroke="#de5c5c"/><line x1="430.5" y1="478.8" x2="430.5" y2="504.3" stroke="#de5c5c"/><line x1="431.5" y1="473.9" x2="431.5" y2="485.8" stroke="#40d240"/><line x1="432.5" y1="459.2" x2="432.5" y2="478.9" stroke="#40d240"/><line x1="433.5" y1="446.6" x2="433.5" y2="474.3" stroke="#de5c5c"/><line x1="434.5" y1="442.3" x2="434.5" y2="487.3" stroke="#40d240"/><line x1="434.5" y1="448.3" x2="434.5" y2="463.9" stroke="#40d240"/><line x1="435.5" y1="458.9" x2="435.5" y2="476.4" stroke="#40d240"/><line x1="435.5" y1="458.5" x2="435.5" y2="480.3" stroke="#de5c5c"/><line x1="436.5" y1="454.9" x2="436.5" y2="492.4" stroke="#40d240"/><line x1="437.5" y1="480.2" x2="437.5" y2="492.0" stroke="#de5c5c"/><line x1="437.5" y1="465.8" x2="437.5" y2="478.4" stroke="#40d240"/><line x1="438.5" y1="465.9" x2="438.5" y2="476.9" stroke="#40d240"/><line x1="438.5" y1="472.9" x2="438.5" y2="496.8" stroke="#de5c5c"/><line x1="439.5" y1="462.4" x2="439.5" y2="479.8" stroke="#40d240"/><line x1="440.5" y1="469.8" x2="440.5" y2="492.2" stroke="#de5c5c"/><line x1="441.5" y1="482.1" x2="441.5" y2="508.0" stroke="#40d240"/><line x1="442.5" y1="466.9" x2="442.5" y2="502.8" stroke="#40d240"/><line x1="443.5" y1="492.6" x2="443.5" y2="508.1" stroke="#de5c5c"/><line x1="443.5" y1="493.2" x2="443.5" y2="512.4" stroke="#40d240"/><line x1="444.5" y1="487.7" x2="444.5" y2="503.5" stroke="#de5c5c"/><line x1="445.5" y1="489.8" x2="445.5" y2="511.7" stroke="#de5c5c"/><line x1="446.5" y1="496.4" x2="446.5" y2="520.9" stroke="#40d240"/><line x1="446.5" y1="497.7" x2="446.5" y2="518.7" stroke="#de5c5c"/><line x1="447.5" y1="493.6" x2="447.5" y2="523.8" stroke="#40d240"/><line x1="448.5" y1="511.0" x2="448.5" y2="541.2" stroke="#40d240"/><line x1="448.5" y1="530.9" x2="448.5" y2="553.5" stroke="#de5c5c"/><line x1="449.5" y1="541.2" x2="449.5" y2="575.6" stroke="#40d240"/><line x1="450.5" y1="539.4" x2="450.5" y2="574.9" stroke="#40d240"/><line x1="450.5" y1="551.1" x2="450.5" y2="587.5" stroke="#40d240"/><line x1="451.5" y1="554.7" x2="451.5" y2="598.8" stroke="#de5c5c"/><line x1="452.5" y1="565.3" x2="452.5" y2="607.5" stroke="#de5c5c"/><line x1="453.5" y1="583.5" x2="453.5" y2="609.3" stroke="#40d240"/><line x1="454.5" y1="583.1" x2="454.5" y2="609.6" stroke="#de5c5c"/><line x1="455.5" y1="600.0" x2="455.5" y2="632.0" stroke="#40d240"/><line x1="455.5" y1="601.4" x2="455.5" y2="618.1" stroke="#de5c5c"/><line x1="456.5" y1="589.0" x2="456.5" y2="622.5" stroke="#de5c5c"/><line x1="457.5" y1="596.0" x2="457.5" y2="636.0" stroke="#40d240"/><line x1="458.5" y1="621.6" x2="458.5" y2="676.0" stroke="#de5c5c"/><line x1="458.5" y1="633.2" x2="458.5" y2="676.0" stroke="#40d240"/><line x1="459.5" y1="625.4" x2="459.5" y2="651.1" stroke="#de5c5c"/><line x1="460.5" y1="660.3" x2="460.5" y2="712.2" stroke="#de5c5c"/><line x1="461.5" y1="651.9" x2="461.5" y2="694.4" stroke="#de5c5c"/><line x1="462.5" y1="683.2" x2="462.5" y2="720.3" stroke="#40d240"/><line x1="463.5" y1="696.9" x2="463.5" y2="724.0" stroke="#40d240"/><line x1="464.5" y1="674.7" x2="464.5" y2="686.3" stroke="#de5c5c"/><line x1="465.5" y1="656.4" x2="465.5" y2="674.2" stroke="#40d240"/><line x1="466.5" y1="636.2" x2="466.5" y2="649.1" stroke="#40d240"/><line x1="467.5" y1="630.4" x2="467.5" y2="657.3" stroke="#40d240"/><line x1="468.5" y1="601.2" x2="468.5" y2="640.5" stroke="#40d240"/><line x1="469.5" y1="609.7" x2="469.5" y2="638.0" stroke="#de5c5c"/><line x1="470.5" y1="592.0" x2="470.5" y2="620.7" stroke="#de5c5c"/><line x1="470.5" y1="604.7" x2="470.5" y2="622.5" stroke="#de5c5c"/><line x1="472.5" y1="597.8" x2="472.5" y2="635.5" stroke="#de5c5c"/><line x1="473.5" y1="622.7" x2="473.5" y2="662.4" stroke="#40d240"/><line x1="473.5" y1="627.0" x2="473.5" y2="644.9" stroke="#40d240"/><line x1="474.5" y1="615.0" x2="474.5" y2="628.9" stroke="#40d240"/><line x1="474.5" y1="625.9" x2="474.5" y2="650.8" stroke="#40d240"/><line x1="475.5" y1="624.1" x2="475.5" y2="643.2" stroke="#de5c5c"/><line x1="476.5" y1="609.0" x2="476.5" y2="627.0" stroke="#40d240"/><line x1="478.5" y1="613.4" x2="478.5" y2="629.0" stroke="#40d240"/><line x1="480.5" y1="622.0" x2="480.5" y2="643.5" stroke="#40d240"/><line x1="480.5" y1="636.5" x2="480.5" y2="647.6" stroke="#40d240"/><line x1="481.5" y1="415.0" x2="481.5" y2="446.6" stroke="#40d240"/><line x1="481.5" y1="430.8" x2="481.5" y2="456.2" stroke="#de5c5c"/><line x1="482.5" y1="409.6" x2="482.5" y2="442.9" stroke="#40d240"/><line x1="483.5" y1="413.8" x2="483.5" y2="442.3" stroke="#de5c5c"/><line x1="484.5" y1="427.3" x2="484.5" y2="462.8" stroke="#40d240"/><line x1="485.5" y1="423.0" x2="485.5" y2="454.3" stroke="#de5c5c"/><line x1="485.5" y1="423.6" x2="485.5" y2="450.7" stroke="#de5c5c"/><line x1="486.5" y1="416.5" x2="486.5" y2="447.2" stroke="#de5c5c"/><line x1="487.5" y1="401.2" x2="487.5" y2="449.1" stroke="#40d240"/><line x1="487.5" y1="423.2" x2="487.5" y2="437.3" stroke="#40d240"/><line x1="488.5" y1="414.8" x2="488.5" y2="434.8" stroke="#40d240"/><line x1="489.5" y1="423.1" x2="489.5" y2="436.9" stroke="#de5c5c"/><line x1="490.5" y1="400.1" x2="490.5" y2="428.2" stroke="#de5c5c"/><line x1="490.5" y1="406.9" x2="490.5" y2="439.5" stroke="#de5c5c"/><line x1="491.5" y1="403.4" x2="491.5" y2="428.2" stroke="#de5c5c"/><line x1="491.5" y1="392.8" x2="491.5" y2="421.8" stroke="#40d240"/><line x1="492.5" y1="395.5" x2="492.5" y2="419.0" stroke="#de5c5c"/><line x1="492.5" y1="405.1" x2="492.5" y2="418.7" stroke="#de5c5c"/><line x1="493.5" y1="388.1" x2="493.5" y2="416.9" stroke="#40d240"/><line x1="494.5" y1="390.0" x2="494.5" y2="411.6" stroke="#de5c5c"/><line x1="495.5" y1="380.3" x2="495.5" y2="406.7" stroke="#40d240"/><line x1="495.5" y1="380.0" x2="495.5" y2="404.9" stroke="#de5c5c"/><line x1="496.5" y1="378.5" x2="496.5" y2="395.3" stroke="#de5c5c"/><line x1="498.5" y1="361.5" x2="498.5" y2="377.5" stroke="#de5c5c"/><line x1="499.5" y1="354.2" x2="499.5" y2="366.2" stroke="#40d240"/><line x1="500.5" y1="341.3" x2="500.5" y2="362.9" stroke="#de5c5c"/><line x1="500.5" y1="337.0" x2="500.5" y2="362.0" stroke="#de5c5c"/><line x1="501.5" y1="346.2" x2="501.5" y2="362.8" stroke="#de5c5c"/><line x1="501.5" y1="335.3" x2="501.5" y2="355.0" stroke="#40d240"/><line x1="502.5" y1="335.0" x2="502.5" y2="356.0" stroke="#de5c5c"/><line x1="502.5" y1="332.9" x2="502.5" y2="345.7" stroke="#de5c5c"/><line x1="503.5" y1="327.3" x2="503.5" y2="343.3" stroke="#40d240"/><line x1="503.5" y1="330.7" x2="503.5" y2="353.8" stroke="#de5c5c"/><line x1="504.5" y1="329.3" x2="504.5" y2="339.8" stroke="#de5c5c"/><line x1="505.5" y1="325.1" x2="505.5" y2="336.5" stroke="#de5c5c"/><line x1="507.5" y1="332.1" x2="507.5" y2="351.3" stroke="#de5c5c"/><line x1="510.5" y1="321.5" x2="510.5" y2="347.7" stroke="#40d240"/><line x1="510.5" y1="321.5" x2="510.5" y2="330.0" stroke="#de5c5c"/><line x1="511.5" y1="319.5" x2="511.5" y2="340.3" stroke="#40d240"/><line x1="512.5" y1="315.9" x2="512.5" y2="328.9" stroke="#40d240"/><line x1="513.5" y1="303.7" x2="513.5" y2="311.3" stroke="#40d240"/><line x1="514.5" y1="284.3" x2="514.5" y2="307.1" stroke="#40d240"/><line x1="515.5" y1="285.7" x2="515.5" y2="309.0" stroke="#de5c5c"/><line x1="516.5" y1="281.0" x2="516.5" y2="300.0" stroke="#40d240"/><line x1="517.5" y1="279.0" x2="517.5" y2="302.3" stroke="#de5c5c"/><line x1="518.5" y1="269.3" x2="518.5" y2="287.8" stroke="#40d240"/><line x1="519.5" y1="275.6" x2="519.5" y2="292.0" stroke="#de5c5c"/><line x1="520.5" y1="276.9" x2="520.5" y2="307.4" stroke="#40d240"/><line x1="521.5" y1="277.2" x2="521.5" y2="307.0" stroke="#de5c5c"/><line x1="522.5" y1="266.0" x2="522.5" y2="296.3" stroke="#de5c5c"/><line x1="523.5" y1="280.8" x2="523.5" y2="300.7" stroke="#de5c5c"/><line x1="525.5" y1="272.1" x2="525.5" y2="288.0" stroke="#de5c5c"/><line x1="527.5" y1="276.4" x2="527.5" y2="298.2" stroke="#de5c5c"/><line x1="527.5" y1="284.3" x2="527.5" y2="295.0" stroke="#40d240"/><line x1="528.5" y1="277.4" x2="528.5" y2="292.6" stroke="#de5c5c"/><line x1="529.5" y1="288.9" x2="529.5" y2="296.0" stroke="#40d240"/><line x1="530.5" y1="275.5" x2="530.5" y2="293.0" stroke="#40d240"/><line x1="531.5" y1="275.0" x2="531.5" y2="291.1" stroke="#40d240"/><line x1="532.5" y1="287.2" x2="532.5" y2="294.0" stroke="#40d240"/><line x1="532.5" y1="287.1" x2="532.5" y2="295.1" stroke="#40d240"/><line x1="534.5" y1="285.6" x2="534.5" y2="295.3" stroke="#40d240"/><line x1="535.5" y1="279.0" x2="535.5" y2="292.0" stroke="#de5c5c"/><line x1="537.5" y1="276.4" x2="537.5" y2="284.7" stroke="#de5c5c"/><line x1="538.5" y1="274.6" x2="538.5" y2="282.7" stroke="#40d240"/><line x1="539.5" y1="261.5" x2="539.5" y2="268.9" stroke="#40d240"/><line x1="540.5" y1="253.7" x2="540.5" y2="274.2" stroke="#de5c5c"/><line x1="540.5" y1="257.3" x2="540.5" y2="269.0" stroke="#de5c5c"/><line x1="541.5" y1="246.1" x2="541.5" y2="259.6" stroke="#de5c5c"/><line x1="544.5" y1="230.8" x2="544.5" y2="244.7" stroke="#de5c5c"/><line x1="545.5" y1="233.8" x2="545.5" y2="260.2" stroke="#de5c5c"/><line x1="546.5" y1="225.5" x2="546.5" y2="262.4" stroke="#40d240"/><line x1="547.5" y1="232.0" x2="547.5" y2="264.2" stroke="#de5c5c"/><line x1="548.5" y1="238.5" x2="548.5" y2="276.4" stroke="#40d240"/><line x1="548.5" y1="250.2" x2="548.5" y2="268.4" stroke="#40d240"/><line x1="551.5" y1="212.2" x2="551.5" y2="222.4" stroke="#de5c5c"/><line x1="552.5" y1="204.6" x2="552.5" y2="214.6" stroke="#40d240"/><line x1="552.5" y1="207.2" x2="552.5" y2="217.2" stroke="#40d240"/><line x1="553.5" y1="194.8" x2="553.5" y2="212.3" stroke="#40d240"/><line x1="554.5" y1="193.5" x2="554.5" y2="207.3" stroke="#40d240"/><line x1="556.5" y1="177.8" x2="556.5" y2="183.9" stroke="#de5c5c"/><line x1="557.5" y1="173.1" x2="557.5" y2="192.5" stroke="#40d240"/><line x1="558.5" y1="172.6" x2="558.5" y2="187.6" stroke="#de5c5c"/><line x1="558.5" y1="171.6" x2="558.5" y2="180.9" stroke="#40d240"/><line x1="559.5" y1="174.6" x2="559.5" y2="191.5" stroke="#40d240"/><line x1="559.5" y1="171.8" x2="559.5" y2="187.7" stroke="#de5c5c"/><line x1="561.5" y1="178.8" x2="561.5" y2="187.0" stroke="#de5c5c"/><line x1="561.5" y1="176.7" x2="561.5" y2="189.0" stroke="#de5c5c"/><line x1="562.5" y1="177.7" x2="562.5" y2="189.6" stroke="#de5c5c"/><line x1="562.5" y1="172.3" x2="562.5" y2="181.4" stroke="#de5c5c"/><line x1="563.5" y1="171.0" x2="563.5" y2="182.8" stroke="#40d240"/><line x1="563.5" y1="173.5" x2="563.5" y2="185.3" stroke="#40d240"/><line x1="564.5" y1="183.1" x2="564.5" y2="191.1" stroke="#40d240"/><line x1="564.5" y1="180.5" x2="564.5" y2="187.6" stroke="#de5c5c"/><line x1="565.5" y1="178.6" x2="565.5" y2="183.6" stroke="#40d240"/><line x1="567.5" y1="183.2" x2="567.5" y2="196.0" stroke="#40d240"/><line x1="568.5" y1="173.3" x2="568.5" y2="188.4" stroke="#de5c5c"/><line x1="569.5" y1="170.3" x2="569.5" y2="180.9" stroke="#40d240"/><line x1="570.5" y1="172.8" x2="570.5" y2="180.1" stroke="#de5c5c"/><line x1="571.5" y1="168.5" x2="571.5" y2="176.0" stroke="#40d240"/><line x1="572.5" y1="163.6" x2="572.5" y2="176.7" stroke="#de5c5c"/><line x1="573.5" y1="155.0" x2="573.5" y2="160.6" stroke="#40d240"/><line x1="574.5" y1="149.5" x2="574.5" y2="166.1" stroke="#40d240"/><line x1="576.5" y1="141.3" x2="576.5" y2="146.7" stroke="#40d240"/><line x1="578.5" y1="146.9" x2="578.5" y2="184.6" stroke="#40d240"/><line x1="579.5" y1="159.7" x2="579.5" y2="195.3" stroke="#de5c5c"/><line x1="580.5" y1="167.9" x2="580.5" y2="202.7" stroke="#40d240"/><line x1="580.5" y1="174.5" x2="580.5" y2="200.9" stroke="#40d240"/><line x1="582.5" y1="190.7" x2="582.5" y2="213.3" stroke="#de5c5c"/><line x1="584.5" y1="201.9" x2="584.5" y2="241.0" stroke="#de5c5c"/><line x1="585.5" y1="209.7" x2="585.5" y2="245.5" stroke="#40d240"/><line x1="586.5" y1="221.4" x2="586.5" y2="248.2" stroke="#40d240"/><line x1="587.5" y1="237.4" x2="587.5" y2="252.2" stroke="#de5c5c"/><line x1="588.5" y1="244.2" x2="588.5" y2="275.3" stroke="#de5c5c"/><line x1="589.5" y1="252.7" x2="589.5" y2="292.4" stroke="#40d240"/><line x1="591.5" y1="278.2" x2="591.5" y2="292.6" stroke="#de5c5c"/><line x1="592.5" y1="299.1" x2="592.5" y2="314.6" stroke="#40d240"/><line x1="593.5" y1="306.1" x2="593.5" y2="325.6" stroke="#40d240"/><line x1="594.5" y1="286.0" x2="594.5" y2="312.2" stroke="#40d240"/><line x1="595.5" y1="297.9" x2="595.5" y2="310.5" stroke="#de5c5c"/><line x1="595.5" y1="300.7" x2="595.5" y2="320.8" stroke="#de5c5c"/><line x1="596.5" y1="262.5" x2="596.5" y2="295.6" stroke="#de5c5c"/><line x1="597.5" y1="247.8" x2="597.5" y2="287.0" stroke="#de5c5c"/><line x1="599.5" y1="233.8" x2="599.5" y2="274.1" stroke="#de5c5c"/><line x1="600.5" y1="235.3" x2="600.5" y2="251.8" stroke="#de5c5c"/><line x1="601.5" y1="225.7" x2="601.5" y2="257.3" stroke="#de5c5c"/><line x1="602.5" y1="223.0" x2="602.5" y2="238.8" stroke="#de5c5c"/><line x1="603.5" y1="224.2" x2="603.5" y2="245.0" stroke="#40d240"/><line x1="604.5" y1="213.2" x2="604.5" y2="241.0" stroke="#de5c5c"/><line x1="605.5" y1="218.0" x2="605.5" y2="250.8" stroke="#de5c5c"/><line x1="605.5" y1="216.5" x2="605.5" y2="243.4" stroke="#40d240"/><line x1="606.5" y1="226.4" x2="606.5" y2="245.6" stroke="#40d240"/><line x1="607.5" y1="221.4" x2="607.5" y2="253.3" stroke="#40d240"/><line x1="607.5" y1="228.4" x2="607.5" y2="244.9" stroke="#40d240"/><line x1="609.5" y1="220.7" x2="609.5" y2="240.6" stroke="#40d240"/><line x1="609.5" y1="214.0" x2="609.5" y2="240.4" stroke="#de5c5c"/><line x1="611.5" y1="207.0" x2="611.5" y2="233.8" stroke="#40d240"/><line x1="611.5" y1="218.0" x2="611.5" y2="231.0" stroke="#40d240"/><line x1="612.5" y1="219.7" x2="612.5" y2="228.1" stroke="#de5c5c"/><line x1="613.5" y1="205.7" x2="613.5" y2="214.8" stroke="#40d240"/><line x1="614.5" y1="195.4" x2="614.5" y2="210.6" stroke="#de5c5c"/><line x1="615.5" y1="197.9" x2="615.5" y2="211.3" stroke="#de5c5c"/><line x1="616.5" y1="198.1" x2="616.5" y2="215.6" stroke="#40d240"/><line x1="616.5" y1="201.6" x2="616.5" y2="210.3" stroke="#de5c5c"/><line x1="619.5" y1="189.6" x2="619.5" y2="205.8" stroke="#de5c5c"/><line x1="620.5" y1="183.9" x2="620.5" y2="199.5" stroke="#de5c5c"/><line x1="620.5" y1="187.2" x2="620.5" y2="197.0" stroke="#de5c5c"/><line x1="621.5" y1="181.8" x2="621.5" y2="201.3" stroke="#de5c5c"/><line x1="622.5" y1="175.9" x2="622.5" y2="185.5" stroke="#40d240"/><line x1="622.5" y1="172.0" x2="622.5" y2="194.0" stroke="#40d240"/><line x1="623.5" y1="188.7" x2="623.5" y2="209.0" stroke="#de5c5c"/><line x1="624.5" y1="210.1" x2="624.5" y2="226.6" stroke="#de5c5c"/><line x1="624.5" y1="173.3" x2="624.5" y2="219.8" stroke="#40d240"/><line x1="625.5" y1="192.7" x2="625.5" y2="250.8" stroke="#40d240"/><line x1="625.5" y1="202.2" x2="625.5" y2="234.7" stroke="#40d240"/><line x1="626.5" y1="209.5" x2="626.5" y2="237.8" stroke="#40d240"/><line x1="627.5" y1="224.0" x2="627.5" y2="279.9" stroke="#de5c5c"/><line x1="628.5" y1="268.9" x2="628.5" y2="331.0" stroke="#40d240"/><line x1="629.5" y1="320.8" x2="629.5" y2="354.2" stroke="#40d240"/><line x1="629.5" y1="283.3" x2="629.5" y2="318.0" stroke="#de5c5c"/><line x1="630.5" y1="301.9" x2="630.5" y2="346.6" stroke="#40d240"/><line x1="631.5" y1="358.5" x2="631.5" y2="411.9" stroke="#40d240"/><line x1="631.5" y1="343.7" x2="631.5" y2="392.8" stroke="#40d240"/><line x1="632.5" y1="355.6" x2="632.5" y2="413.3" stroke="#40d240"/><line x1="632.5" y1="346.6" x2="632.5" y2="393.4" stroke="#40d240"/><line x1="635.5" y1="460.4" x2="635.5" y2="480.2" stroke="#40d240"/><line x1="635.5" y1="434.8" x2="635.5" y2="468.0" stroke="#40d240"/><line x1="636.5" y1="456.8" x2="636.5" y2="481.1" stroke="#40d240"/><line x1="636.5" y1="439.0" x2="636.5" y2="480.5" stroke="#40d240"/><line x1="637.5" y1="465.1" x2="637.5" y2="487.4" stroke="#40d240"/><line x1="637.5" y1="477.0" x2="637.5" y2="520.7" stroke="#40d240"/><line x1="638.5" y1="473.6" x2="638.5" y2="514.5" stroke="#40d240"/><line x1="639.5" y1="482.0" x2="639.5" y2="522.8" stroke="#de5c5c"/><line x1="639.5" y1="475.4" x2="639.5" y2="512.3" stroke="#40d240"/><line x1="640.5" y1="489.5" x2="640.5" y2="511.1" stroke="#de5c5c"/><line x1="641.5" y1="503.3" x2="641.5" y2="527.4" stroke="#de5c5c"/><line x1="643.5" y1="487.2" x2="643.5" y2="512.7" stroke="#de5c5c"/><line x1="644.5" y1="471.9" x2="644.5" y2="495.1" stroke="#40d240"/><line x1="645.5" y1="457.3" x2="645.5" y2="475.2" stroke="#de5c5c"/><line x1="646.5" y1="452.4" x2="646.5" y2="462.1" stroke="#de5c5c"/><line x1="647.5" y1="451.8" x2="647.5" y2="466.5" stroke="#40d240"/><line x1="648.5" y1="450.4" x2="648.5" y2="459.0" stroke="#40d240"/><line x1="650.5" y1="452.7" x2="650.5" y2="468.7" stroke="#40d240"/><line x1="652.5" y1="437.2" x2="652.5" y2="451.1" stroke="#de5c5c"/><line x1="653.5" y1="428.5" x2="653.5" y2="452.0" stroke="#de5c5c"/><line x1="653.5" y1="430.1" x2="653.5" y2="447.0" stroke="#de5c5c"/><line x1="654.5" y1="419.7" x2="654.5" y2="444.0" stroke="#40d240"/><line x1="655.5" y1="413.2" x2="655.5" y2="438.2" stroke="#40d240"/><line x1="656.5" y1="423.1" x2="656.5" y2="432.9" stroke="#de5c5c"/><line x1="657.5" y1="409.0" x2="657.5" y2="427.4" stroke="#40d240"/><line x1="657.5" y1="420.5" x2="657.5" y2="426.9" stroke="#40d240"/><line x1="658.5" y1="414.1" x2="658.5" y2="423.9" stroke="#40d240"/><line x1="658.5" y1="409.8" x2="658.5" y2="426.5" stroke="#40d240"/><line x1="659.5" y1="403.4" x2="659.5" y2="418.5" stroke="#40d240"/><line x1="661.5" y1="406.0" x2="661.5" y2="424.6" stroke="#40d240"/><line x1="661.5" y1="420.1" x2="661.5" y2="431.2" stroke="#40d240"/><line x1="662.5" y1="411.2" x2="662.5" y2="435.5" stroke="#de5c5c"/><line x1="663.5" y1="426.2" x2="663.5" y2="443.0" stroke="#40d240"/><line x1="663.5" y1="412.0" x2="663.5" y2="440.1" stroke="#de5c5c"/><line x1="664.5" y1="416.8" x2="664.5" y2="427.5" stroke="#40d240"/><line x1="664.5" y1="405.1" x2="664.5" y2="434.6" stroke="#de5c5c"/><line x1="666.5" y1="415.2" x2="666.5" y2="445.2" stroke="#40d240"/><line x1="668.5" y1="423.7" x2="668.5" y2="446.1" stroke="#de5c5c"/><line x1="668.5" y1="424.3" x2="668.5" y2="447.7" stroke="#40d240"/><line x1="669.5" y1="417.1" x2="669.5" y2="446.0" stroke="#40d240"/><line x1="670.5" y1="417.0" x2="670.5" y2="454.8" stroke="#de5c5c"/><line x1="671.5" y1="437.0" x2="671.5" y2="473.0" stroke="#de5c5c"/><line x1="671.5" y1="421.0" x2="671.5" y2="453.4" stroke="#de5c5c"/><line x1="672.5" y1="419.8" x2="672.5" y2="448.9" stroke="#40d240"/><line x1="673.5" y1="424.6" x2="673.5" y2="452.5" stroke="#de5c5c"/><line x1="673.5" y1="434.2" x2="673.5" y2="454.0" stroke="#de5c5c"/><line x1="675.5" y1="429.1" x2="675.5" y2="446.2" stroke="#40d240"/><line x1="675.5" y1="420.9" x2="675.5" y2="442.4" stroke="#de5c5c"/><line x1="678.5" y1="395.0" x2="678.5" y2="406.1" stroke="#40d240"/><line x1="679.5" y1="394.6" x2="679.5" y2="401.7" stroke="#de5c5c"/><line x1="679.5" y1="387.3" x2="679.5" y2="406.9" stroke="#de5c5c"/><line x1="680.5" y1="371.2" x2="680.5" y2="389.6" stroke="#40d240"/><line x1="681.5" y1="370.7" x2="681.5" y2="390.4" stroke="#de5c5c"/><line x1="681.5" y1="373.6" x2="681.5" y2="394.0" stroke="#de5c5c"/><line x1="682.5" y1="360.2" x2="682.5" y2="381.6" stroke="#de5c5c"/><line x1="683.5" y1="342.0" x2="683.5" y2="364.2" stroke="#de5c5c"/><line x1="684.5" y1="352.8" x2="684.5" y2="374.8" stroke="#de5c5c"/><line x1="685.5" y1="351.7" x2="685.5" y2="358.7" stroke="#40d240"/><line x1="685.5" y1="342.2" x2="685.5" y2="366.8" stroke="#40d240"/><line x1="686.5" y1="344.3" x2="686.5" y2="355.2" stroke="#40d240"/><line x1="687.5" y1="344.5" x2="687.5" y2="360.7" stroke="#40d240"/><line x1="688.5" y1="346.8" x2="688.5" y2="355.7" stroke="#40d240"/><line x1="689.5" y1="338.9" x2="689.5" y2="352.2" stroke="#de5c5c"/><line x1="689.5" y1="338.2" x2="689.5" y2="352.2" stroke="#40d240"/><line x1="690.5" y1="340.6" x2="690.5" y2="359.0" stroke="#de5c5c"/><line x1="691.5" y1="342.7" x2="691.5" y2="350.2" stroke="#40d240"/><line x1="691.5" y1="336.2" x2="691.5" y2="356.9" stroke="#de5c5c"/><line x1="692.5" y1="332.1" x2="692.5" y2="349.6" stroke="#de5c5c"/><line x1="693.5" y1="331.1" x2="693.5" y2="342.7" stroke="#de5c5c"/><line x1="693.5" y1="330.9" x2="693.5" y2="339.1" stroke="#de5c5c"/><line x1="694.5" y1="321.5" x2="694.5" y2="339.7" stroke="#40d240"/><line x1="695.5" y1="326.3" x2="695.5" y2="346.0" stroke="#de5c5c"/><line x1="695.5" y1="315.2" x2="695.5" y2="338.0" stroke="#40d240"/><line x1="696.5" y1="313.2" x2="696.5" y2="333.5" stroke="#40d240"/><line x1="697.5" y1="311.5" x2="697.5" y2="327.7" stroke="#40d240"/><line x1="698.5" y1="316.0" x2="698.5" y2="328.4" stroke="#40d240"/><line x1="698.5" y1="321.6" x2="698.5" y2="327.9" stroke="#de5c5c"/><line x1="699.5" y1="308.0" x2="699.5" y2="322.6" stroke="#de5c5c"/><line x1="700.5" y1="317.9" x2="700.5" y2="328.1" stroke="#de5c5c"/><line x1="700.5" y1="315.4" x2="700.5" y2="324.0" stroke="#de5c5c"/><line x1="701.5" y1="319.9" x2="701.5" y2="326.9" stroke="#40d240"/><line x1="701.5" y1="322.6" x2="701.5" y2="335.0" stroke="#de5c5c"/><line x1="702.5" y1="321.7" x2="702.5" y2="326.6" stroke="#de5c5c"/><line x1="703.5" y1="325.0" x2="703.5" y2="331.4" stroke="#40d240"/><line x1="703.5" y1="324.7" x2="703.5" y2="329.0" stroke="#40d240"/><line x1="704.5" y1="333.3" x2="704.5" y2="342.5" stroke="#de5c5c"/><line x1="705.5" y1="322.3" x2="705.5" y2="337.3" stroke="#de5c5c"/><line x1="707.5" y1="332.0" x2="707.5" y2="357.0" stroke="#de5c5c"/><line x1="708.5" y1="338.4" x2="708.5" y2="362.0" stroke="#de5c5c"/><line x1="709.5" y1="328.8" x2="709.5" y2="359.5" stroke="#40d240"/><line x1="710.5" y1="348.3" x2="710.5" y2="367.0" stroke="#40d240"/><line x1="711.5" y1="338.4" x2="711.5" y2="360.7" stroke="#de5c5c"/><line x1="713.5" y1="343.0" x2="713.5" y2="362.4" stroke="#40d240"/><line x1="714.5" y1="346.2" x2="714.5" y2="371.0" stroke="#40d240"/><line x1="715.5" y1="355.0" x2="715.5" y2="388.3" stroke="#de5c5c"/><line x1="716.5" y1="363.9" x2="716.5" y2="384.2" stroke="#de5c5c"/><line x1="718.5" y1="368.3" x2="718.5" y2="383.1" stroke="#de5c5c"/><line x1="719.5" y1="370.8" x2="719.5" y2="409.9" stroke="#40d240"/><line x1="719.5" y1="379.5" x2="719.5" y2="416.0" stroke="#40d240"/><line x1="721.5" y1="398.8" x2="721.5" y2="425.9" stroke="#40d240"/><line x1="723.5" y1="397.0" x2="723.5" y2="433.3" stroke="#de5c5c"/><line x1="724.5" y1="410.6" x2="724.5" y2="443.5" stroke="#40d240"/><line x1="724.5" y1="431.5" x2="724.5" y2="451.2" stroke="#de5c5c"/><line x1="725.5" y1="418.5" x2="725.5" y2="494.0" stroke="#de5c5c"/><line x1="725.5" y1="438.3" x2="725.5" y2="502.6" stroke="#40d240"/><line x1="726.5" y1="457.8" x2="726.5" y2="516.8" stroke="#de5c5c"/><line x1="727.5" y1="457.9" x2="727.5" y2="549.0" stroke="#de5c5c"/><line x1="728.5" y1="434.3" x2="728.5" y2="501.0" stroke="#40d240"/><line x1="728.5" y1="445.9" x2="728.5" y2="532.8" stroke="#de5c5c"/><line x1="729.5" y1="431.5" x2="729.5" y2="477.0" stroke="#40d240"/><line x1="730.5" y1="450.3" x2="730.5" y2="500.2" stroke="#40d240"/><line x1="730.5" y1="456.4" x2="730.5" y2="474.5" stroke="#de5c5c"/><line x1="731.5" y1="440.4" x2="731.5" y2="464.5" stroke="#40d240"/><line x1="734.5" y1="457.2" x2="734.5" y2="493.4" stroke="#de5c5c"/><line x1="735.5" y1="435.6" x2="735.5" y2="483.1" stroke="#de5c5c"/><line x1="736.5" y1="439.9" x2="736.5" y2="464.2" stroke="#40d240"/><line x1="737.5" y1="463.2" x2="737.5" y2="489.2" stroke="#40d240"/><line x1="737.5" y1="459.1" x2="737.5" y2="491.2" stroke="#de5c5c"/><line x1="738.5" y1="454.0" x2="738.5" y2="470.2" stroke="#de5c5c"/><line x1="739.5" y1="453.0" x2="739.5" y2="486.0" stroke="#40d240"/><line x1="740.5" y1="483.9" x2="740.5" y2="508.4" stroke="#de5c5c"/><line x1="740.5" y1="460.7" x2="740.5" y2="502.9" stroke="#40d240"/><line x1="741.5" y1="492.3" x2="741.5" y2="518.4" stroke="#de5c5c"/><line x1="742.5" y1="508.8" x2="742.5" y2="542.9" stroke="#40d240"/><line x1="744.5" y1="513.0" x2="744.5" y2="590.6" stroke="#40d240"/><line x1="745.5" y1="529.6" x2="745.5" y2="646.9" stroke="#de5c5c"/><line x1="746.5" y1="543.5" x2="746.5" y2="645.7" stroke="#de5c5c"/><line x1="746.5" y1="565.7" x2="746.5" y2="620.6" stroke="#40d240"/><line x1="747.5" y1="543.9" x2="747.5" y2="626.2" stroke="#de5c5c"/><line x1="748.5" y1="538.0" x2="748.5" y2="582.5" stroke="#de5c5c"/><line x1="749.5" y1="539.5" x2="749.5" y2="579.6" stroke="#de5c5c"/><line x1="750.5" y1="530.1" x2="750.5" y2="546.0" stroke="#40d240"/><line x1="751.5" y1="518.2" x2="751.5" y2="545.0" stroke="#de5c5c"/><line x1="751.5" y1="527.5" x2="751.5" y2="543.3" stroke="#de5c5c"/><line x1="753.5" y1="507.9" x2="753.5" y2="520.3" stroke="#40d240"/><line x1="754.5" y1="504.2" x2="754.5" y2="522.2" stroke="#de5c5c"/><line x1="755.5" y1="493.3" x2="755.5" y2="510.8" stroke="#de5c5c"/><line x1="756.5" y1="486.2" x2="756.5" y2="517.6" stroke="#de5c5c"/><line x1="756.5" y1="487.9" x2="756.5" y2="514.5" stroke="#40d240"/><line x1="757.5" y1="485.9" x2="757.5" y2="514.0" stroke="#40d240"/><line x1="758.5" y1="470.1" x2="758.5" y2="508.7" stroke="#de5c5c"/><line x1="758.5" y1="480.2" x2="758.5" y2="493.4" stroke="#40d240"/><line x1="759.5" y1="475.8" x2="759.5" y2="507.8" stroke="#40d240"/><line x1="759.5" y1="481.2" x2="759.5" y2="508.3" stroke="#de5c5c"/><line x1="760.5" y1="483.7" x2="760.5" y2="496.5" stroke="#de5c5c"/><line x1="761.5" y1="487.4" x2="761.5" y2="509.8" stroke="#40d240"/><line x1="762.5" y1="467.0" x2="762.5" y2="497.2" stroke="#40d240"/><line x1="763.5" y1="467.0" x2="763.5" y2="503.6" stroke="#40d240"/><line x1="764.5" y1="475.2" x2="764.5" y2="503.5" stroke="#40d240"/><line x1="765.5" y1="460.6" x2="765.5" y2="481.0" stroke="#40d240"/><line x1="766.5" y1="464.5" x2="766.5" y2="488.4" stroke="#de5c5c"/><line x1="767.5" y1="452.2" x2="767.5" y2="486.4" stroke="#de5c5c"/><line x1="768.5" y1="472.7" x2="768.5" y2="482.8" stroke="#de5c5c"/><line x1="769.5" y1="455.4" x2="769.5" y2="468.4" stroke="#40d240"/><line x1="770.5" y1="452.4" x2="770.5" y2="471.3" stroke="#40d240"/><line x1="771.5" y1="452.0" x2="771.5" y2="475.3" stroke="#de5c5c"/><line x1="771.5" y1="458.6" x2="771.5" y2="470.3" stroke="#de5c5c"/><line x1="772.5" y1="454.0" x2="772.5" y2="475.8" stroke="#40d240"/><line x1="774.5" y1="618.4" x2="774.5" y2="648.4" stroke="#de5c5c"/><line x1="775.5" y1="647.4" x2="775.5" y2="701.0" stroke="#40d240"/><line x1="776.5" y1="617.5" x2="776.5" y2="679.8" stroke="#40d240"/><line x1="778.5" y1="663.8" x2="778.5" y2="683.5" stroke="#40d240"/><line x1="781.5" y1="626.8" x2="781.5" y2="648.0" stroke="#de5c5c"/><line x1="782.5" y1="618.8" x2="782.5" y2="630.9" stroke="#40d240"/><line x1="782.5" y1="616.8" x2="782.5" y2="626.5" stroke="#de5c5c"/><line x1="783.5" y1="604.7" x2="783.5" y2="624.1" stroke="#40d240"/><line x1="784.5" y1="603.3" x2="784.5" y2="612.7" stroke="#de5c5c"/><line x1="785.5" y1="603.4" x2="785.5" y2="619.4" stroke="#de5c5c"/><line x1="786.5" y1="605.9" x2="786.5" y2="619.8" stroke="#de5c5c"/><line x1="787.5" y1="601.0" x2="787.5" y2="609.2" stroke="#40d240"/><line x1="789.5" y1="578.7" x2="789.5" y2="599.6" stroke="#40d240"/><line x1="790.5" y1="586.1" x2="790.5" y2="603.2" stroke="#40d240"/><line x1="791.5" y1="576.8" x2="791.5" y2="598.6" stroke="#40d240"/><line x1="791.5" y1="582.5" x2="791.5" y2="592.0" stroke="#40d240"/><line x1="792.5" y1="571.8" x2="792.5" y2="585.3" stroke="#de5c5c"/><line x1="793.5" y1="572.3" x2="793.5" y2="590.8" stroke="#de5c5c"/><line x1="793.5" y1="564.4" x2="793.5" y2="581.8" stroke="#40d240"/><line x1="794.5" y1="564.4" x2="794.5" y2="581.3" stroke="#de5c5c"/><line x1="794.5" y1="556.7" x2="794.5" y2="575.4" stroke="#de5c5c"/><line x1="796.5" y1="538.0" x2="796.5" y2="567.8" stroke="#40d240"/><line x1="797.5" y1="552.6" x2="797.5" y2="573.4" stroke="#de5c5c"/><line x1="798.5" y1="556.6" x2="798.5" y2="567.9" stroke="#40d240"/><line x1="798.5" y1="548.6" x2="798.5" y2="564.3" stroke="#de5c5c"/><line x1="799.5" y1="545.2" x2="799.5" y2="566.1" stroke="#40d240"/><line x1="799.5" y1="551.5" x2="799.5" y2="562.0" stroke="#40d240"/><line x1="800.5" y1="556.4" x2="800.5" y2="563.6" stroke="#de5c5c"/><line x1="800.5" y1="560.6" x2="800.5" y2="568.4" stroke="#de5c5c"/><line x1="802.5" y1="544.8" x2="802.5" y2="561.3" stroke="#de5c5c"/><line x1="802.5" y1="540.6" x2="802.5" y2="566.9" stroke="#de5c5c"/><line x1="803.5" y1="517.3" x2="803.5" y2="545.4" stroke="#de5c5c"/><line x1="804.5" y1="515.8" x2="804.5" y2="552.0" stroke="#40d240"/><line x1="805.5" y1="524.0" x2="805.5" y2="561.8" stroke="#de5c5c"/><line x1="806.5" y1="531.5" x2="806.5" y2="550.4" stroke="#40d240"/><line x1="807.5" y1="533.2" x2="807.5" y2="558.7" stroke="#de5c5c"/><line x1="808.5" y1="529.7" x2="808.5" y2="556.5" stroke="#de5c5c"/><line x1="809.5" y1="541.0" x2="809.5" y2="559.0" stroke="#de5c5c"/><line x1="810.5" y1="548.8" x2="810.5" y2="573.2" stroke="#de5c5c"/><line x1="810.5" y1="545.1" x2="810.5" y2="563.5" stroke="#de5c5c"/><line x1="811.5" y1="547.6" x2="811.5" y2="568.4" stroke="#de5c5c"/><line x1="811.5" y1="552.6" x2="811.5" y2="561.3" stroke="#40d240"/><line x1="812.5" y1="545.8" x2="812.5" y2="571.2" stroke="#de5c5c"/><line x1="812.5" y1="561.9" x2="812.5" y2="576.5" stroke="#40d240"/><line x1="813.5" y1="550.0" x2="813.5" y2="578.9" stroke="#de5c5c"/><line x1="250.5" y1="508" x2="250.5" y2="540" stroke="#de5c5c"/><line x1="260.5" y1="600" x2="260.5" y2="640" stroke="#de5c5c"/><line x1="205.5" y1="570" x2="205.5" y2="660" stroke="#40d240"/><line x1="352.5" y1="680" x2="352.5" y2="716" stroke="#40d240"/><line x1="385.5" y1="620" x2="385.5" y2="655" stroke="#de5c5c"/><line x1="434.5" y1="437" x2="434.5" y2="470" stroke="#de5c5c"/><line x1="239.5" y1="590" x2="239.5" y2="634" stroke="#de5c5c"/><line x1="595.5" y1="300" x2="595.5" y2="334" stroke="#40d240"/><line x1="33.5" y1="720" x2="33.5" y2="783" stroke="#40d240"/><line x1="15.5" y1="542" x2="15.5" y2="689" stroke="#de5c5c"/><line x1="62.5" y1="740" x2="62.5" y2="778" stroke="#de5c5c"/><line x1="189.5" y1="560" x2="189.5" y2="746" stroke="#de5c5c"/><line x1="199.5" y1="711" x2="199.5" y2="827" stroke="#40d240"/><line x1="309.5" y1="740" x2="309.5" y2="820" stroke="#40d240"/><line x1="745.5" y1="530" x2="745.5" y2="667" stroke="#de5c5c"/><line x1="727.5" y1="430" x2="727.5" y2="548" stroke="#40d240"/><line x1="172.5" y1="800" x2="172.5" y2="846" stroke="#de5c5c"/></g>
<rect x="382.5" y="120.5" width="94" height="15" fill="#fff" stroke="#ff0000" stroke-width="1"/>
<text x="384.5" y="132.2" fill="#ff0000" font-size="12" textLength="88" lengthAdjust="spacingAndGlyphs">22.833,54 (0,00 %)</text>
<rect x="476.5" y="120.5" width="99" height="15" fill="#fff" stroke="#ff0000" stroke-width="1"/>
<text x="478.5" y="132.2" fill="#ff0000" font-size="12" textLength="88" lengthAdjust="spacingAndGlyphs">22.833,25 (0,00 %)</text>
<line x1="390" y1="135.5" x2="476" y2="135.5" stroke="#ff0000" stroke-width="2"/>
<line x1="494" y1="135.5" x2="577" y2="135.5" stroke="#ff0000" stroke-width="2"/>
<rect x="751.5" y="120.5" width="111" height="16" fill="#fff" stroke="#2eaa2e" stroke-width="1"/>
<text x="753.5" y="133.2" fill="#2eaa2e" font-size="12" textLength="104" lengthAdjust="spacingAndGlyphs">22.833,50 (100,00 %)</text>
<line x1="798" y1="136" x2="862" y2="136" stroke="#2eaa2e" stroke-width="2"/>
<rect x="235.5" y="318.5" width="103" height="16" fill="#fff" stroke="#2eaa2e" stroke-width="1"/>
<text x="237.5" y="331.2" fill="#2eaa2e" font-size="12" textLength="97" lengthAdjust="spacingAndGlyphs">22.664,17 (61,80 %)</text>
<line x1="236" y1="335.5" x2="318" y2="335.5" stroke="#2eaa2e" stroke-width="3.5"/>
<rect x="757.5" y="346.5" width="105" height="15" fill="#fff" stroke="#2eaa2e" stroke-width="1"/>
<text x="759.5" y="358.2" fill="#2eaa2e" font-size="12" textLength="98" lengthAdjust="spacingAndGlyphs">22.640,59 (61,80 %)</text>
<line x1="797" y1="361" x2="862" y2="361" stroke="#2eaa2e" stroke-width="2"/>
<rect x="470.5" y="483.5" width="105" height="15" fill="#fff" stroke="#ff0000" stroke-width="1"/>
<text x="472.5" y="495.2" fill="#ff0000" font-size="12" textLength="98" lengthAdjust="spacingAndGlyphs">22.523,60 (61,80 %)</text>
<line x1="494" y1="498" x2="576" y2="498" stroke="#ff0000" stroke-width="2"/>
<rect x="766.5" y="484.5" width="54" height="15" fill="#fff" stroke="#ff0000" stroke-width="1"/>
<text x="768.5" y="496.2" fill="#ff0000" font-size="12" textLength="48" lengthAdjust="spacingAndGlyphs">22.522,00</text>
<line x1="779" y1="499" x2="821" y2="499" stroke="#ff0000" stroke-width="2"/>
<rect x="376.5" y="553.5" width="105" height="15" fill="#fff" stroke="#ff0000" stroke-width="1"/>
<text x="378.5" y="565.2" fill="#ff0000" font-size="12" textLength="98" lengthAdjust="spacingAndGlyphs">22.463,64 (61,80 %)</text>
<line x1="390" y1="568" x2="481" y2="568" stroke="#ff0000" stroke-width="2"/>
<rect x="766.5" y="624.5" width="54" height="15" fill="#fff" stroke="#ff0000" stroke-width="1"/>
<text x="768.5" y="636.2" fill="#ff0000" font-size="12" textLength="48" lengthAdjust="spacingAndGlyphs">22.402,76</text>
<rect x="766.5" y="642.5" width="54" height="15" fill="#fff" stroke="#ff0000" stroke-width="1"/>
<text x="768.5" y="654.2" fill="#ff0000" font-size="12" textLength="48" lengthAdjust="spacingAndGlyphs">22.386,94</text>
<rect x="763.5" y="711.5" width="99" height="16" fill="#fff" stroke="#2eaa2e" stroke-width="1"/>
<text x="765.5" y="724.2" fill="#2eaa2e" font-size="12" textLength="96" lengthAdjust="spacingAndGlyphs">22.329,06 (100,00 %)</text>
<rect x="766.5" y="711.5" width="54" height="15" fill="#fff" stroke="#ff0000" stroke-width="1"/>
<text x="768.5" y="723.2" fill="#ff0000" font-size="12" textLength="48" lengthAdjust="spacingAndGlyphs">22.329,06</text>
<rect x="464.5" y="706.5" width="111" height="15" fill="#fff" stroke="#ff0000" stroke-width="1"/>
<text x="466.5" y="718.2" fill="#ff0000" font-size="12" textLength="104" lengthAdjust="spacingAndGlyphs">22.332,20 (100,00 %)</text>
<line x1="480" y1="721" x2="576" y2="721" stroke="#ff0000" stroke-width="2"/>
<rect x="370.5" y="820.5" width="111" height="15" fill="#fff" stroke="#ff0000" stroke-width="1"/>
<text x="372.5" y="832.2" fill="#ff0000" font-size="12" textLength="104" lengthAdjust="spacingAndGlyphs">22.235,00 (100,00 %)</text>
<line x1="390" y1="835" x2="481" y2="835" stroke="#ff0000" stroke-width="2"/>
<rect x="61.5" y="780.5" width="54" height="16" fill="#fff" stroke="#2eaa2e" stroke-width="1"/>
<text x="63.5" y="793.2" fill="#2eaa2e" font-size="12" textLength="47" lengthAdjust="spacingAndGlyphs">22.269,21</text>
<line x1="62" y1="796" x2="93" y2="796" stroke="#2eaa2e" stroke-width="2"/>
<rect x="61.5" y="825.5" width="54" height="16" fill="#fff" stroke="#2eaa2e" stroke-width="1"/>
<text x="63.5" y="838.2" fill="#2eaa2e" font-size="12" textLength="47" lengthAdjust="spacingAndGlyphs">22.230,55</text>
<line x1="62" y1="841" x2="93" y2="841" stroke="#2eaa2e" stroke-width="2"/>
<rect x="61.5" y="898.5" width="54" height="16" fill="#fff" stroke="#2eaa2e" stroke-width="1"/>
<text x="63.5" y="911.2" fill="#2eaa2e" font-size="12" textLength="47" lengthAdjust="spacingAndGlyphs">22.168,00</text>
<line x1="62" y1="914" x2="93" y2="914" stroke="#2eaa2e" stroke-width="2"/>
<rect x="235.5" y="831.5" width="55" height="16" fill="#fff" stroke="#2eaa2e" stroke-width="1"/>
<text x="237.5" y="844.2" fill="#2eaa2e" font-size="12" textLength="50" lengthAdjust="spacingAndGlyphs">22.226,01</text>
<line x1="236" y1="848.5" x2="318" y2="848.5" stroke="#2eaa2e" stroke-width="3"/>
<rect x="283.5" y="830.5" width="98" height="15" fill="#fff" stroke="#0000ee" stroke-width="1"/>
<text x="285.5" y="842.2" fill="#0000ee" font-size="12" textLength="92" lengthAdjust="spacingAndGlyphs">22.226,95 (0,00 %)</text>
<line x1="172" y1="845.5" x2="381" y2="845.5" stroke="#0000f0" stroke-width="3"/>
<line x1="0" y1="52.7" x2="1204" y2="227.2" stroke="#7200c8" stroke-width="2.2" />
<line x1="0" y1="590.3" x2="780.9" y2="21" stroke="#2db42d" stroke-width="2.1" />
<line x1="0" y1="836" x2="463" y2="557.5" stroke="#777" stroke-width="2.3" />
<line x1="0" y1="418.2" x2="295" y2="910.2" stroke="#000" stroke-width="1" />
<line x1="1" y1="485" x2="267" y2="1006" stroke="#ff0000" stroke-width="1" />
<line x1="0" y1="749.5" x2="217" y2="986" stroke="#1c1cec" stroke-width="1.3" />
<line x1="465" y1="708" x2="600" y2="113" stroke="#2ca82c" stroke-width="1" />
<line x1="577" y1="136" x2="1204" y2="606" stroke="#ff0000" stroke-width="2.3" />
<line x1="627" y1="175.5" x2="1106" y2="1006" stroke="#ff0000" stroke-width="1" />
<line x1="707" y1="317" x2="902.5" y2="676" stroke="#40b8f0" stroke-width="2" />
<line x1="737" y1="356" x2="964" y2="684" stroke="#40b8f0" stroke-width="2.5" stroke-dasharray="2.5 4.5"/>
<line x1="644" y1="534" x2="852" y2="832" stroke="#40b8f0" stroke-width="2" />
<line x1="644" y1="534" x2="865" y2="534" stroke="#40b8f0" stroke-width="2" />
<line x1="707" y1="317" x2="945" y2="827" stroke="#000" stroke-width="1" />
<line x1="777" y1="726" x2="807" y2="508" stroke="#2ca82c" stroke-width="1" />
<line x1="778" y1="726" x2="799" y2="565" stroke="#2ca82c" stroke-width="1" />
<line x1="624" y1="212" x2="624.5" y2="400" stroke="#ff8a78" stroke-width="5" stroke-dasharray="23 13"/>
<polyline points="629,336 631,420 636.5,522" fill="none" stroke="#ff8a78" stroke-width="5.5" stroke-dasharray="26 12"/>
<line x1="627" y1="300" x2="629.5" y2="340" stroke="#999" stroke-width="1" />
<line x1="645" y1="518" x2="648" y2="550" stroke="#888" stroke-width="1" />
<polyline points="625.5,177 645.5,518 707,317 777,725" fill="none" stroke="#0000ff" stroke-width="5" stroke-linejoin="miter"/>
<line x1="851" y1="767" x2="898.5" y2="645.5" stroke="#0000ff" stroke-width="5" />
<line x1="916" y1="610" x2="954" y2="515.5" stroke="#0000ff" stroke-width="5" />
<line x1="984" y1="422" x2="1060.3" y2="203" stroke="#0000ff" stroke-width="5" />
<line x1="897" y1="647" x2="921.5" y2="980" stroke="#ff0000" stroke-width="5" />
<line x1="954.5" y1="519" x2="985.5" y2="946" stroke="#ff0000" stroke-width="5" />
<line x1="826" y1="828" x2="842" y2="1006" stroke="#ff0000" stroke-width="5" />
<text x="545" y="99.7" fill="#2eaa2e" font-size="16" font-weight="bold" text-anchor="start" textLength="59.5" lengthAdjust="spacingAndGlyphs" >a' of Y ?</text>
<text x="567.5" y="114.8" fill="#2eaa2e" font-size="19" font-weight="bold" text-anchor="start" >c</text>
<text x="1047" y="198.5" fill="#2eaa2e" font-size="16" font-weight="bold" text-anchor="start" textLength="60" lengthAdjust="spacingAndGlyphs" >c' of Y ?</text>
<text x="810" y="801.5" fill="#2eaa2e" font-size="16" font-weight="bold" text-anchor="start" textLength="60" lengthAdjust="spacingAndGlyphs" >b' of Y ?</text>
<text x="244.5" y="497.5" fill="#2eaa2e" font-size="16.5" font-weight="bold" text-anchor="start" >W</text>
<text x="246.5" y="506" fill="#2eaa2e" font-size="14.5" font-weight="bold" text-anchor="start" >c</text>
<text x="420.3" y="427.8" fill="#2eaa2e" font-size="19" font-weight="bold" text-anchor="start" >a</text>
<text x="185.5" y="559.5" fill="#2eaa2e" font-size="15" font-weight="bold" text-anchor="start" >a</text>
<text x="194.5" y="833" fill="#2eaa2e" font-size="16.5" font-weight="bold" text-anchor="start" >b</text>
<text x="171.5" y="873.5" fill="#2eaa2e" font-size="11" font-weight="bold" text-anchor="start" textLength="22" lengthAdjust="spacingAndGlyphs" >uB ?</text>
<text x="451" y="763.6" fill="#2eaa2e" font-size="16" font-weight="bold" text-anchor="start" textLength="25" lengthAdjust="spacingAndGlyphs" >X ?</text>
<text x="457.5" y="782.7" fill="#2eaa2e" font-size="20" font-weight="bold" text-anchor="start" >b</text>
<text x="619.5" y="163" fill="#ff0000" font-size="16" font-weight="bold" text-anchor="start" >b</text>
<rect x="629" y="170" width="9" height="2" fill="#ff0000"/>
<rect x="633" y="292" width="5" height="2" fill="#ff0000"/>
<rect x="628" y="367" width="5" height="2" fill="#ff0000"/>
<rect x="629" y="489" width="5" height="2" fill="#ff0000"/>
<text x="589.5" y="352.5" fill="#ff0000" font-size="13" font-weight="bold" text-anchor="start" >a</text>
<text x="623.5" y="333.5" fill="#ff0000" font-size="14" font-weight="bold" text-anchor="start" >X</text>
<text x="620" y="407" fill="#ff0000" font-size="13" font-weight="bold" text-anchor="start" >c</text>
<text x="614.5" y="417.5" fill="#ff0000" font-size="16" font-weight="bold" text-anchor="start" >W</text>
<text x="632.5" y="538.7" fill="#ff0000" font-size="16" font-weight="bold" text-anchor="start" >Y</text>
<text x="428.2" y="418.9" fill="#ff0000" font-size="20.5" font-weight="bold" text-anchor="start" >b</text>
<text x="457.5" y="747" fill="#ff0000" font-size="21" font-weight="bold" text-anchor="start" >c</text>
<text x="137" y="641" fill="#ff0000" font-size="21" font-weight="bold" text-anchor="start" >IV</text>
<text x="55" y="839.5" fill="#ff0000" font-size="20" font-weight="bold" text-anchor="start" textLength="14" lengthAdjust="spacingAndGlyphs" >III</text>
<text x="46.5" y="808.7" fill="#ff0000" font-size="10.5" font-weight="bold" text-anchor="start" textLength="37" lengthAdjust="spacingAndGlyphs" >iii' of III</text>
<text x="3.5" y="499.5" fill="#ff0000" font-size="11" font-weight="bold" text-anchor="start" textLength="23" lengthAdjust="spacingAndGlyphs" >of III</text>
<text x="163.5" y="875" fill="#ff0000" font-size="20" font-weight="bold" text-anchor="start" >V</text>
<text x="188.5" y="853" fill="#ff0000" font-size="20" font-weight="bold" text-anchor="start" >V</text>
<text x="295.5" y="843" fill="#ff0000" font-size="18.5" font-weight="bold" text-anchor="start" >a</text>
<text x="292.5" y="871.5" fill="#ff0000" font-size="20" font-weight="bold" text-anchor="start" textLength="33" lengthAdjust="spacingAndGlyphs" >V ?</text>
<text x="446.5" y="896" fill="#ff0000" font-size="21" font-weight="bold" text-anchor="start" textLength="43.5" lengthAdjust="spacingAndGlyphs" >GAP</text>
<text x="605.5" y="115" fill="#7a00c8" font-size="20" font-weight="bold" text-anchor="start" textLength="28" lengthAdjust="spacingAndGlyphs" >II ?</text>
<text x="1023" y="188.6" fill="#7a00c8" font-size="20" font-weight="bold" text-anchor="start" textLength="29" lengthAdjust="spacingAndGlyphs" >II ?</text>
<text x="176" y="901.5" fill="#7a00c8" font-size="20" font-weight="bold" text-anchor="start" textLength="24" lengthAdjust="spacingAndGlyphs" >I ?</text>
<text x="843.5" y="961" fill="#7a00c8" font-size="21" font-weight="bold" text-anchor="start" textLength="34" lengthAdjust="spacingAndGlyphs" >III ?</text>
<text x="708" y="288" fill="#0000ee" font-size="20.5" font-weight="bold" text-anchor="start" >ii</text>
<text x="701.5" y="307" fill="#0000ee" font-size="21" font-weight="bold" text-anchor="start" >2</text>
<text x="704.5" y="307" fill="#0000ee" font-size="21" font-weight="bold" text-anchor="start" >X</text>
<text x="632" y="413" fill="#0000ee" font-size="13" font-weight="bold" text-anchor="start" >iii</text>
<text x="637.5" y="559.5" fill="#0000ee" font-size="15" font-weight="bold" text-anchor="start" >v</text>
<text x="632" y="581" fill="#0000ee" font-size="21" font-weight="bold" text-anchor="start" >1</text>
<text x="643.5" y="574" fill="#0000ee" font-size="19.5" font-weight="bold" text-anchor="start" >i</text>
<text x="633" y="599.6" fill="#0000ee" font-size="21" font-weight="bold" text-anchor="start" >W</text>
<text x="746.3" y="441.8" fill="#0000ee" font-size="15" font-weight="bold" text-anchor="start" textLength="46.5" lengthAdjust="spacingAndGlyphs" >ii' of iii</text>
<text x="801.5" y="527" fill="#0000ee" font-size="19" font-weight="bold" text-anchor="start" >4</text>
<text x="741.5" y="694" fill="#0000ee" font-size="16" font-weight="bold" text-anchor="start" >iii</text>
<text x="726.5" y="708" fill="#0000ee" font-size="14" font-weight="bold" text-anchor="start" textLength="41" lengthAdjust="spacingAndGlyphs" >i' of iii</text>
<text x="767.5" y="735.5" fill="#0000ee" font-size="19" font-weight="bold" text-anchor="start" >3</text>
<text x="824.5" y="694.5" fill="#0000ee" font-size="19" font-weight="bold" text-anchor="start" >5</text>
<text x="772.5" y="779" fill="#0000ee" font-size="20" font-weight="bold" text-anchor="start" >Y</text>
<text x="780.5" y="771.5" fill="#0000ee" font-size="18" font-weight="bold" text-anchor="start" >iii</text>
<text x="827.5" y="785" fill="#0000ee" font-size="19" font-weight="bold" text-anchor="start" >5</text>
<text x="0" y="0" fill="#1a1a2a" font-size="11.5" transform="translate(3,49.2) rotate(6.3)" textLength="47" lengthAdjust="spacingAndGlyphs">22.804,35</text>
<text x="0" y="0" fill="#1a1a2a" font-size="11" transform="translate(583,134) rotate(37)" textLength="47" lengthAdjust="spacingAndGlyphs">22.681,63</text>
<text x="0" y="0" fill="#1a1a2a" font-size="11.5" transform="translate(711,319) rotate(60)" textLength="48" lengthAdjust="spacingAndGlyphs">22.483,69</text>
<text x="0" y="0" fill="#1a1a2a" font-size="11.5" transform="translate(648,535) rotate(56)" textLength="47" lengthAdjust="spacingAndGlyphs">22.285,18</text>
<text x="0" y="0" fill="#1a1a2a" font-size="11.5" transform="translate(4,480) rotate(60)" textLength="46" lengthAdjust="spacingAndGlyphs">21.172,29</text>
<text x="0" y="0" fill="#1a1a2a" font-size="11.5" transform="translate(-5,831.5) rotate(-31)" textLength="49" lengthAdjust="spacingAndGlyphs">22.473,37</text>
<rect x="808.5" y="991.5" width="11" height="11" fill="#fff" stroke="#9aa4ac"/>
<text x="811.5" y="1001" fill="#6b7a86" font-size="10" font-weight="bold" font-family="Liberation Serif, serif">i</text>
<line x1="1204.5" y1="22" x2="1204.5" y2="1006" stroke="#8e9ca6" stroke-width="1" />
<line x1="0" y1="1006.5" x2="1204" y2="1006.5" stroke="#8e9ca6" stroke-width="1" />
<line x1="1205" y1="1006.5" x2="1215" y2="1006.5" stroke="#ffff60" stroke-width="1" />
<line x1="1205" y1="58.5" x2="1209" y2="58.5" stroke="#8e9ca6" stroke-width="1" />
<text x="1211" y="61" fill="#000" font-size="11" font-weight="normal" text-anchor="start" textLength="32" lengthAdjust="spacingAndGlyphs" >22.900</text>
<line x1="1205" y1="117.5" x2="1209" y2="117.5" stroke="#8e9ca6" stroke-width="1" />
<text x="1211" y="120" fill="#000" font-size="11" font-weight="normal" text-anchor="start" textLength="32" lengthAdjust="spacingAndGlyphs" >22.850</text>
<line x1="1205" y1="175.5" x2="1209" y2="175.5" stroke="#8e9ca6" stroke-width="1" />
<text x="1211" y="178" fill="#000" font-size="11" font-weight="normal" text-anchor="start" textLength="32" lengthAdjust="spacingAndGlyphs" >22.800</text>
<line x1="1205" y1="234.5" x2="1209" y2="234.5" stroke="#8e9ca6" stroke-width="1" />
<text x="1211" y="237" fill="#000" font-size="11" font-weight="normal" text-anchor="start" textLength="32" lengthAdjust="spacingAndGlyphs" >22.750</text>
<line x1="1205" y1="292.5" x2="1209" y2="292.5" stroke="#8e9ca6" stroke-width="1" />
<text x="1211" y="295" fill="#000" font-size="11" font-weight="normal" text-anchor="start" textLength="32" lengthAdjust="spacingAndGlyphs" >22.700</text>
<line x1="1205" y1="351.5" x2="1209" y2="351.5" stroke="#8e9ca6" stroke-width="1" />
<text x="1211" y="354" fill="#000" font-size="11" font-weight="normal" text-anchor="start" textLength="32" lengthAdjust="spacingAndGlyphs" >22.650</text>
<line x1="1205" y1="409.5" x2="1209" y2="409.5" stroke="#8e9ca6" stroke-width="1" />
<text x="1211" y="412" fill="#000" font-size="11" font-weight="normal" text-anchor="start" textLength="32" lengthAdjust="spacingAndGlyphs" >22.600</text>
<line x1="1205" y1="468.5" x2="1209" y2="468.5" stroke="#8e9ca6" stroke-width="1" />
<text x="1211" y="471" fill="#000" font-size="11" font-weight="normal" text-anchor="start" textLength="32" lengthAdjust="spacingAndGlyphs" >22.550</text>
<line x1="1205" y1="526.5" x2="1209" y2="526.5" stroke="#8e9ca6" stroke-width="1" />
<text x="1211" y="529.3" fill="#000" font-size="12.5" font-weight="bold" text-anchor="start" textLength="37" lengthAdjust="spacingAndGlyphs" >22.500</text>
<line x1="1205" y1="584.5" x2="1209" y2="584.5" stroke="#8e9ca6" stroke-width="1" />
<text x="1211" y="587" fill="#000" font-size="11" font-weight="normal" text-anchor="start" textLength="32" lengthAdjust="spacingAndGlyphs" >22.450</text>
<line x1="1205" y1="643.5" x2="1209" y2="643.5" stroke="#8e9ca6" stroke-width="1" />
<text x="1211" y="646" fill="#000" font-size="11" font-weight="normal" text-anchor="start" textLength="32" lengthAdjust="spacingAndGlyphs" >22.400</text>
<line x1="1205" y1="701.5" x2="1209" y2="701.5" stroke="#8e9ca6" stroke-width="1" />
<text x="1211" y="704" fill="#000" font-size="11" font-weight="normal" text-anchor="start" textLength="32" lengthAdjust="spacingAndGlyphs" >22.350</text>
<line x1="1205" y1="760.5" x2="1209" y2="760.5" stroke="#8e9ca6" stroke-width="1" />
<text x="1211" y="763" fill="#000" font-size="11" font-weight="normal" text-anchor="start" textLength="32" lengthAdjust="spacingAndGlyphs" >22.300</text>
<line x1="1205" y1="818.5" x2="1209" y2="818.5" stroke="#8e9ca6" stroke-width="1" />
<text x="1211" y="821" fill="#000" font-size="11" font-weight="normal" text-anchor="start" textLength="32" lengthAdjust="spacingAndGlyphs" >22.250</text>
<line x1="1205" y1="877.5" x2="1209" y2="877.5" stroke="#8e9ca6" stroke-width="1" />
<text x="1211" y="880" fill="#000" font-size="11" font-weight="normal" text-anchor="start" textLength="32" lengthAdjust="spacingAndGlyphs" >22.200</text>
<line x1="1205" y1="935.5" x2="1209" y2="935.5" stroke="#8e9ca6" stroke-width="1" />
<text x="1211" y="938" fill="#000" font-size="11" font-weight="normal" text-anchor="start" textLength="32" lengthAdjust="spacingAndGlyphs" >22.150</text>
<line x1="1205" y1="994.5" x2="1209" y2="994.5" stroke="#8e9ca6" stroke-width="1" />
<text x="1211" y="997" fill="#000" font-size="11" font-weight="normal" text-anchor="start" textLength="32" lengthAdjust="spacingAndGlyphs" >22.100</text>
<line x1="43.5" y1="1006" x2="43.5" y2="1010" stroke="#8e9ca6" stroke-width="1" />
<text x="43" y="1020" fill="#000" font-size="11.5" font-weight="bold" text-anchor="middle" >21</text>
<line x1="94.5" y1="1006" x2="94.5" y2="1010" stroke="#8e9ca6" stroke-width="1" />
<text x="94.5" y="1020" fill="#000" font-size="11" font-weight="normal" text-anchor="middle" >12:00</text>
<line x1="145.5" y1="1006" x2="145.5" y2="1010" stroke="#8e9ca6" stroke-width="1" />
<text x="145.5" y="1020" fill="#000" font-size="11" font-weight="normal" text-anchor="middle" >15:00</text>
<line x1="189.5" y1="1006" x2="189.5" y2="1010" stroke="#8e9ca6" stroke-width="1" />
<text x="189.5" y="1020" fill="#000" font-size="11.5" font-weight="bold" text-anchor="middle" >24</text>
<line x1="240.5" y1="1006" x2="240.5" y2="1010" stroke="#8e9ca6" stroke-width="1" />
<text x="240.5" y="1020" fill="#000" font-size="11" font-weight="normal" text-anchor="middle" >12:00</text>
<line x1="291.5" y1="1006" x2="291.5" y2="1010" stroke="#8e9ca6" stroke-width="1" />
<text x="291.5" y="1020" fill="#000" font-size="11" font-weight="normal" text-anchor="middle" >15:00</text>
<line x1="335.5" y1="1006" x2="335.5" y2="1010" stroke="#8e9ca6" stroke-width="1" />
<text x="335.5" y="1020" fill="#000" font-size="11.5" font-weight="bold" text-anchor="middle" >25</text>
<line x1="386.5" y1="1006" x2="386.5" y2="1010" stroke="#8e9ca6" stroke-width="1" />
<text x="386.5" y="1020" fill="#000" font-size="11" font-weight="normal" text-anchor="middle" >12:00</text>
<line x1="437.5" y1="1006" x2="437.5" y2="1010" stroke="#8e9ca6" stroke-width="1" />
<text x="437.5" y="1020" fill="#000" font-size="11" font-weight="normal" text-anchor="middle" >15:00</text>
<line x1="481.5" y1="1006" x2="481.5" y2="1010" stroke="#8e9ca6" stroke-width="1" />
<text x="481.5" y="1020" fill="#000" font-size="11.5" font-weight="bold" text-anchor="middle" >26</text>
<line x1="532.5" y1="1006" x2="532.5" y2="1010" stroke="#8e9ca6" stroke-width="1" />
<text x="532.5" y="1020" fill="#000" font-size="11" font-weight="normal" text-anchor="middle" >12:00</text>
<line x1="583.5" y1="1006" x2="583.5" y2="1010" stroke="#8e9ca6" stroke-width="1" />
<text x="583.5" y="1020" fill="#000" font-size="11" font-weight="normal" text-anchor="middle" >15:00</text>
<line x1="627.5" y1="1006" x2="627.5" y2="1010" stroke="#8e9ca6" stroke-width="1" />
<text x="627.5" y="1020" fill="#000" font-size="11.5" font-weight="bold" text-anchor="middle" >27</text>
<line x1="678.5" y1="1006" x2="678.5" y2="1010" stroke="#8e9ca6" stroke-width="1" />
<text x="678.5" y="1020" fill="#000" font-size="11" font-weight="normal" text-anchor="middle" >12:00</text>
<line x1="729.5" y1="1006" x2="729.5" y2="1010" stroke="#8e9ca6" stroke-width="1" />
<text x="729.5" y="1020" fill="#000" font-size="11" font-weight="normal" text-anchor="middle" >15:00</text>
<line x1="773.5" y1="1006" x2="773.5" y2="1010" stroke="#8e9ca6" stroke-width="1" />
<text x="773.5" y="1020" fill="#000" font-size="11.5" font-weight="bold" text-anchor="middle" >28</text>
<line x1="824.5" y1="1006" x2="824.5" y2="1010" stroke="#8e9ca6" stroke-width="1" />
<text x="824.5" y="1020" fill="#000" font-size="11" font-weight="normal" text-anchor="middle" >12:00</text>
<line x1="876.5" y1="1006" x2="876.5" y2="1010" stroke="#8e9ca6" stroke-width="1" />
<text x="876" y="1020" fill="#000" font-size="11" font-weight="normal" text-anchor="middle" >15:00</text>
<line x1="919.5" y1="1006" x2="919.5" y2="1010" stroke="#8e9ca6" stroke-width="1" />
<text x="919.5" y="1020" fill="#000" font-size="11.5" font-weight="bold" text-anchor="middle" textLength="27" lengthAdjust="spacingAndGlyphs" >März</text>
<line x1="970.5" y1="1006" x2="970.5" y2="1010" stroke="#8e9ca6" stroke-width="1" />
<text x="970.5" y="1020" fill="#000" font-size="11" font-weight="normal" text-anchor="middle" >12:00</text>
<line x1="1021.5" y1="1006" x2="1021.5" y2="1010" stroke="#8e9ca6" stroke-width="1" />
<text x="1021.5" y="1020" fill="#000" font-size="11" font-weight="normal" text-anchor="middle" >15:00</text>
<line x1="1066.5" y1="1006" x2="1066.5" y2="1010" stroke="#8e9ca6" stroke-width="1" />
<text x="1066.5" y="1020" fill="#000" font-size="11.5" font-weight="bold" text-anchor="middle" >04</text>
<line x1="1117.5" y1="1006" x2="1117.5" y2="1010" stroke="#8e9ca6" stroke-width="1" />
<text x="1117.5" y="1020" fill="#000" font-size="11" font-weight="normal" text-anchor="middle" >12:00</text>
<line x1="1168.5" y1="1006" x2="1168.5" y2="1010" stroke="#8e9ca6" stroke-width="1" />
<text x="1168" y="1020" fill="#000" font-size="11" font-weight="normal" text-anchor="middle" >15:00</text>
<defs><linearGradient id="hg" x1="0" y1="0" x2="0" y2="1"><stop offset="0" stop-color="#e8fbff"/><stop offset="1" stop-color="#cadde6"/></linearGradient><linearGradient id="pg" x1="0" y1="0" x2="0" y2="1"><stop offset="0" stop-color="#ffdc3c"/><stop offset="1" stop-color="#f0b400"/></linearGradient></defs>
<rect x="0" y="0" width="1280" height="21" fill="url(#hg)"/>
<line x1="0" y1="0.5" x2="1280" y2="0.5" stroke="#9aa8b2" stroke-width="1" />
<line x1="0" y1="21.5" x2="1280" y2="21.5" stroke="#8d9ba5" stroke-width="1" />
<line x1="0.5" y1="0" x2="0.5" y2="1024" stroke="#8d9ba5" stroke-width="1" />
<g stroke="#5aaee8" fill="none" stroke-width="1"><line x1="6.5" y1="10" x2="6.5" y2="20"/><rect x="5" y="12" width="3" height="6" fill="#5aaee8"/><line x1="11.5" y1="8" x2="11.5" y2="17"/><rect x="10.5" y="10.5" width="2" height="4"/><line x1="16.5" y1="4" x2="16.5" y2="14"/><rect x="15.5" y="6.5" width="2" height="5"/></g>
<text x="23" y="15.8" fill="#000" font-size="11.6" font-weight="bold" text-anchor="start" textLength="339" lengthAdjust="spacingAndGlyphs" >DAX40 Perf Index 1 Minute 22.471,74 -0,35 % 28.02.2025, 11:22:20</text>
<text x="1276" y="15.8" fill="#000" font-size="11.6" font-weight="bold" text-anchor="end" textLength="129" lengthAdjust="spacingAndGlyphs" >www.ProRealTime.com</text>
<rect x="1" y="22" width="40" height="17" fill="#e6ebf0"/>
<line x1="41.5" y1="22" x2="41.5" y2="40" stroke="#aab5bd" stroke-width="1" />
<line x1="1" y1="39.5" x2="41.5" y2="39.5" stroke="#aab5bd" stroke-width="1" />
<rect x="2" y="26" width="5" height="10" fill="#4ccc4c"/><rect x="7" y="26" width="5" height="10" fill="#e06666"/>
<text x="16" y="34" fill="#000" font-size="11" font-weight="normal" text-anchor="start" >Kurs</text>
<line x1="1205" y1="559.5" x2="1210" y2="559.5" stroke="#000" stroke-width="1" />
<rect x="1209.5" y="550.5" width="67" height="18" fill="url(#pg)" stroke="#8fa0b0" stroke-width="1"/>
<text x="1211.5" y="565" fill="#000" font-size="14" font-weight="bold" text-anchor="start" textLength="63" lengthAdjust="spacingAndGlyphs" >22.471,74</text>
<text x="2" y="1004" fill="#000" font-size="11" font-weight="normal" text-anchor="start" textLength="82" lengthAdjust="spacingAndGlyphs" >ProRealTime.com</text>
</svg></body></html>
